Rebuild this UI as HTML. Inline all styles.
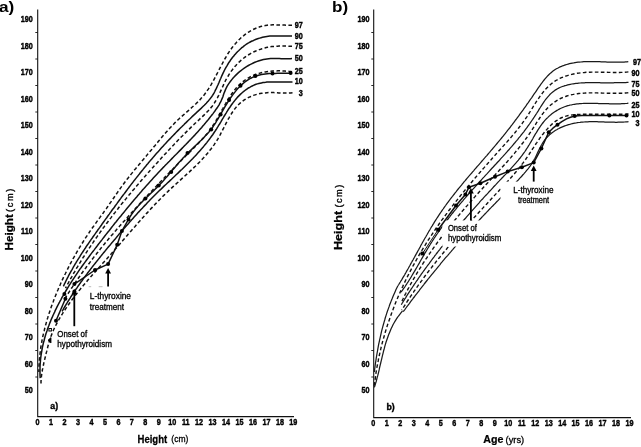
<!DOCTYPE html>
<html><head><meta charset="utf-8"><title>Growth charts</title>
<style>
html,body{margin:0;padding:0;background:#fff;}
svg{display:block;font-family:"Liberation Sans",sans-serif;}
</style></head>
<body>
<svg width="641" height="447" viewBox="0 0 641 447">
<rect width="641" height="447" fill="#fff"/>
<path d="M37.7,9.5 V416.6 H294" fill="none" stroke="#111" stroke-width="1.1"/>
<path d="M35.3,32.5 H37.7" stroke="#111" stroke-width="0.9"/>
<path d="M35.3,59.0 H37.7" stroke="#111" stroke-width="0.9"/>
<path d="M35.3,85.5 H37.7" stroke="#111" stroke-width="0.9"/>
<path d="M35.3,112.0 H37.7" stroke="#111" stroke-width="0.9"/>
<path d="M35.3,138.5 H37.7" stroke="#111" stroke-width="0.9"/>
<path d="M35.3,165.0 H37.7" stroke="#111" stroke-width="0.9"/>
<path d="M35.3,191.5 H37.7" stroke="#111" stroke-width="0.9"/>
<path d="M35.3,218.0 H37.7" stroke="#111" stroke-width="0.9"/>
<path d="M35.3,244.5 H37.7" stroke="#111" stroke-width="0.9"/>
<path d="M35.3,271.0 H37.7" stroke="#111" stroke-width="0.9"/>
<path d="M35.3,297.5 H37.7" stroke="#111" stroke-width="0.9"/>
<path d="M35.3,324.0 H37.7" stroke="#111" stroke-width="0.9"/>
<path d="M35.3,350.5 H37.7" stroke="#111" stroke-width="0.9"/>
<path d="M35.3,377.0 H37.7" stroke="#111" stroke-width="0.9"/>
<text transform="translate(32.7,22.1) scale(0.85,1)" font-size="8.5" font-weight="bold" text-anchor="end" stroke="#000" stroke-width="0.4" >190</text>
<text transform="translate(32.7,48.6) scale(0.85,1)" font-size="8.5" font-weight="bold" text-anchor="end" stroke="#000" stroke-width="0.4" >180</text>
<text transform="translate(32.7,75.1) scale(0.85,1)" font-size="8.5" font-weight="bold" text-anchor="end" stroke="#000" stroke-width="0.4" >170</text>
<text transform="translate(32.7,101.6) scale(0.85,1)" font-size="8.5" font-weight="bold" text-anchor="end" stroke="#000" stroke-width="0.4" >160</text>
<text transform="translate(32.7,128.1) scale(0.85,1)" font-size="8.5" font-weight="bold" text-anchor="end" stroke="#000" stroke-width="0.4" >150</text>
<text transform="translate(32.7,154.6) scale(0.85,1)" font-size="8.5" font-weight="bold" text-anchor="end" stroke="#000" stroke-width="0.4" >140</text>
<text transform="translate(32.7,181.1) scale(0.85,1)" font-size="8.5" font-weight="bold" text-anchor="end" stroke="#000" stroke-width="0.4" >130</text>
<text transform="translate(32.7,207.6) scale(0.85,1)" font-size="8.5" font-weight="bold" text-anchor="end" stroke="#000" stroke-width="0.4" >120</text>
<text transform="translate(32.7,234.1) scale(0.85,1)" font-size="8.5" font-weight="bold" text-anchor="end" stroke="#000" stroke-width="0.4" >110</text>
<text transform="translate(32.7,260.6) scale(0.85,1)" font-size="8.5" font-weight="bold" text-anchor="end" stroke="#000" stroke-width="0.4" >100</text>
<text transform="translate(32.7,287.1) scale(0.85,1)" font-size="8.5" font-weight="bold" text-anchor="end" stroke="#000" stroke-width="0.4" >90</text>
<text transform="translate(32.7,313.6) scale(0.85,1)" font-size="8.5" font-weight="bold" text-anchor="end" stroke="#000" stroke-width="0.4" >80</text>
<text transform="translate(32.7,340.1) scale(0.85,1)" font-size="8.5" font-weight="bold" text-anchor="end" stroke="#000" stroke-width="0.4" >70</text>
<text transform="translate(32.7,366.6) scale(0.85,1)" font-size="8.5" font-weight="bold" text-anchor="end" stroke="#000" stroke-width="0.4" >60</text>
<text transform="translate(32.7,393.1) scale(0.85,1)" font-size="8.5" font-weight="bold" text-anchor="end" stroke="#000" stroke-width="0.4" >50</text>
<text transform="translate(37.6,425.3) scale(0.85,1)" font-size="8.5" font-weight="bold" text-anchor="middle" stroke="#000" stroke-width="0.4" >0</text>
<text transform="translate(51.1,425.3) scale(0.85,1)" font-size="8.5" font-weight="bold" text-anchor="middle" stroke="#000" stroke-width="0.4" >1</text>
<text transform="translate(64.5,425.3) scale(0.85,1)" font-size="8.5" font-weight="bold" text-anchor="middle" stroke="#000" stroke-width="0.4" >2</text>
<text transform="translate(78.0,425.3) scale(0.85,1)" font-size="8.5" font-weight="bold" text-anchor="middle" stroke="#000" stroke-width="0.4" >3</text>
<text transform="translate(91.4,425.3) scale(0.85,1)" font-size="8.5" font-weight="bold" text-anchor="middle" stroke="#000" stroke-width="0.4" >4</text>
<text transform="translate(104.9,425.3) scale(0.85,1)" font-size="8.5" font-weight="bold" text-anchor="middle" stroke="#000" stroke-width="0.4" >5</text>
<text transform="translate(118.4,425.3) scale(0.85,1)" font-size="8.5" font-weight="bold" text-anchor="middle" stroke="#000" stroke-width="0.4" >6</text>
<text transform="translate(131.8,425.3) scale(0.85,1)" font-size="8.5" font-weight="bold" text-anchor="middle" stroke="#000" stroke-width="0.4" >7</text>
<text transform="translate(145.3,425.3) scale(0.85,1)" font-size="8.5" font-weight="bold" text-anchor="middle" stroke="#000" stroke-width="0.4" >8</text>
<text transform="translate(158.7,425.3) scale(0.85,1)" font-size="8.5" font-weight="bold" text-anchor="middle" stroke="#000" stroke-width="0.4" >9</text>
<text transform="translate(172.2,425.3) scale(0.85,1)" font-size="8.5" font-weight="bold" text-anchor="middle" stroke="#000" stroke-width="0.4" >10</text>
<text transform="translate(185.7,425.3) scale(0.85,1)" font-size="8.5" font-weight="bold" text-anchor="middle" stroke="#000" stroke-width="0.4" >11</text>
<text transform="translate(199.1,425.3) scale(0.85,1)" font-size="8.5" font-weight="bold" text-anchor="middle" stroke="#000" stroke-width="0.4" >12</text>
<text transform="translate(212.6,425.3) scale(0.85,1)" font-size="8.5" font-weight="bold" text-anchor="middle" stroke="#000" stroke-width="0.4" >13</text>
<text transform="translate(226.0,425.3) scale(0.85,1)" font-size="8.5" font-weight="bold" text-anchor="middle" stroke="#000" stroke-width="0.4" >14</text>
<text transform="translate(239.5,425.3) scale(0.85,1)" font-size="8.5" font-weight="bold" text-anchor="middle" stroke="#000" stroke-width="0.4" >15</text>
<text transform="translate(253.0,425.3) scale(0.85,1)" font-size="8.5" font-weight="bold" text-anchor="middle" stroke="#000" stroke-width="0.4" >16</text>
<text transform="translate(266.4,425.3) scale(0.85,1)" font-size="8.5" font-weight="bold" text-anchor="middle" stroke="#000" stroke-width="0.4" >17</text>
<text transform="translate(279.9,425.3) scale(0.85,1)" font-size="8.5" font-weight="bold" text-anchor="middle" stroke="#000" stroke-width="0.4" >18</text>
<text transform="translate(293.3,425.3) scale(0.85,1)" font-size="8.5" font-weight="bold" text-anchor="middle" stroke="#000" stroke-width="0.4" >19</text>
<path d="M292.0,25.2 L290.1,25.2 L288.3,25.2 L286.4,25.2 L284.5,25.1 L282.6,25.1 L280.6,25.0 L278.7,24.9 L276.8,24.9 L274.8,24.8 L272.9,24.8 L271.0,24.9 L269.1,25.0 L267.2,25.2 L265.4,25.5 L263.5,25.8 L261.7,26.3 L259.9,26.8 L258.2,27.4 L256.5,28.0 L254.8,28.7 L253.1,29.5 L251.4,30.4 L249.8,31.3 L248.2,32.3 L246.7,33.3 L245.2,34.4 L243.7,35.6 L242.2,36.7 L240.8,38.0 L239.5,39.3 L238.1,40.6 L236.8,42.0 L235.6,43.4 L234.3,44.8 L233.1,46.3 L232.0,47.8 L230.9,49.3 L229.8,50.9 L228.8,52.4 L227.7,54.0 L226.7,55.7 L225.8,57.3 L224.8,59.0 L223.9,60.6 L223.0,62.3 L222.1,64.0 L221.2,65.7 L220.3,67.4 L219.4,69.1 L218.5,70.8 L217.7,72.5 L216.8,74.2 L215.9,75.9 L215.0,77.6 L214.1,79.3 L213.2,81.0 L212.2,82.7 L211.3,84.3 L210.3,85.9 L209.3,87.5 L208.3,89.1 L207.2,90.7 L206.2,92.2 L205.0,93.7 L203.9,95.2 L202.7,96.6 L201.4,98.0 L200.2,99.4 L198.9,100.8 L197.6,102.1 L196.2,103.5 L194.8,104.8 L193.5,106.0 L192.0,107.3 L190.6,108.6 L189.2,109.9 L187.8,111.1 L186.3,112.4 L184.9,113.6 L183.5,114.9 L182.1,116.1 L180.6,117.4 L179.2,118.7 L177.8,120.0 L176.5,121.3 L175.1,122.6 L173.8,124.0 L172.5,125.4 L171.2,126.7 L169.9,128.1 L168.6,129.5 L167.3,130.9 L166.1,132.3 L164.8,133.8 L163.6,135.2 L162.4,136.6 L161.1,138.1 L159.9,139.5 L158.7,141.0 L157.5,142.5 L156.3,143.9 L155.1,145.4 L153.9,146.8 L152.7,148.3 L151.5,149.8 L150.2,151.2 L149.0,152.7 L147.8,154.1 L146.6,155.6 L145.4,157.1 L144.2,158.5 L142.9,160.0 L141.7,161.4 L140.5,162.9 L139.3,164.3 L138.0,165.8 L136.8,167.2 L135.6,168.7 L134.4,170.1 L133.2,171.6 L132.0,173.1 L130.8,174.6 L129.6,176.0 L128.5,177.5 L127.3,179.0 L126.1,180.5 L125.0,182.0 L123.9,183.5 L122.7,185.1 L121.6,186.6 L120.5,188.1 L119.4,189.7 L118.3,191.2 L117.2,192.8 L116.2,194.3 L115.1,195.9 L114.0,197.5 L113.0,199.0 L111.9,200.6 L110.8,202.1 L109.7,203.7 L108.7,205.3 L107.6,206.8 L106.5,208.4 L105.4,209.9 L104.3,211.4 L103.2,213.0 L102.1,214.5 L100.9,216.0 L99.8,217.6 L98.7,219.1 L97.6,220.6 L96.5,222.1 L95.4,223.7 L94.3,225.2 L93.2,226.8 L92.1,228.3 L91.0,229.9 L89.9,231.4 L88.9,233.0 L87.8,234.6 L86.8,236.1 L85.7,237.7 L84.7,239.3 L83.7,240.9 L82.7,242.5 L81.7,244.1 L80.7,245.7 L79.7,247.4 L78.7,249.0 L77.7,250.6 L76.8,252.2 L75.8,253.9 L74.9,255.5 L74.0,257.2 L73.0,258.8 L72.1,260.5 L71.2,262.2 L70.3,263.8 L69.4,265.5 L68.6,267.2 L67.7,268.9 L66.9,270.6 L66.0,272.3 L65.2,274.0 L64.3,275.7 L63.5,277.4 L62.7,279.1 L61.9,280.8 L61.1,282.5 L60.4,284.3 L59.6,286.0 L58.8,287.7 L58.1,289.5 L57.3,291.2 L56.6,293.0 L55.9,294.7 L55.2,296.5 L54.5,298.3 L53.8,300.0 L53.2,301.8 L52.5,303.6 L51.8,305.4 L51.2,307.1 L50.6,308.9 L50.0,310.7 L49.4,312.5 L48.8,314.3 L48.2,316.1 L47.7,317.9 L47.1,319.7 L46.6,321.6 L46.1,323.4 L45.6,325.2 L45.1,327.0 L44.6,328.9 L44.2,330.7 L43.7,332.5 L43.3,334.4 L42.9,336.2 L42.5,338.1 L42.1,339.9 L41.8,341.8 L41.5,343.7 L41.1,345.5 L40.8,347.4 L40.6,349.3 L40.3,351.2 L40.1,353.0 L39.9,354.9 L39.7,356.8 L39.5,358.7 L39.3,360.6 L39.2,362.5 L39.1,364.4 L39.0,366.3 L39.0,368.2 L38.9,370.1 L38.9,372.0" fill="none" stroke="#111" stroke-width="1.5" stroke-dasharray="3.6 2.4"/>
<path d="M292.0,36.1 L290.5,36.1 L289.1,36.1 L287.6,36.1 L286.1,36.1 L284.6,36.1 L283.2,36.0 L281.7,36.0 L280.2,35.9 L278.7,35.9 L277.2,35.9 L275.7,35.9 L274.2,35.9 L272.8,35.9 L271.3,36.0 L269.8,36.1 L268.3,36.3 L266.9,36.5 L265.4,36.7 L264.0,37.0 L262.5,37.3 L261.1,37.7 L259.7,38.1 L258.3,38.5 L256.9,39.0 L255.5,39.5 L254.2,40.1 L252.9,40.7 L251.5,41.3 L250.2,42.0 L249.0,42.7 L247.7,43.4 L246.5,44.2 L245.3,45.0 L244.1,45.9 L243.0,46.8 L241.8,47.7 L240.7,48.7 L239.6,49.7 L238.6,50.7 L237.5,51.7 L236.5,52.8 L235.5,53.9 L234.5,55.0 L233.6,56.2 L232.6,57.3 L231.7,58.5 L230.8,59.7 L230.0,61.0 L229.1,62.2 L228.3,63.5 L227.5,64.8 L226.8,66.1 L226.0,67.4 L225.3,68.7 L224.6,70.0 L223.9,71.4 L223.3,72.7 L222.6,74.1 L222.0,75.4 L221.4,76.8 L220.8,78.2 L220.2,79.5 L219.6,80.9 L219.1,82.3 L218.5,83.6 L217.9,85.0 L217.3,86.3 L216.7,87.6 L216.1,88.9 L215.4,90.2 L214.8,91.5 L214.1,92.8 L213.4,94.0 L212.6,95.3 L211.8,96.5 L211.0,97.6 L210.1,98.8 L209.2,99.9 L208.3,101.0 L207.3,102.1 L206.3,103.2 L205.3,104.2 L204.3,105.3 L203.2,106.3 L202.2,107.3 L201.1,108.4 L200.0,109.4 L198.9,110.4 L197.8,111.4 L196.7,112.4 L195.7,113.4 L194.6,114.4 L193.5,115.4 L192.4,116.4 L191.3,117.5 L190.3,118.5 L189.2,119.5 L188.1,120.5 L187.0,121.6 L186.0,122.6 L184.9,123.6 L183.9,124.7 L182.8,125.7 L181.8,126.8 L180.7,127.8 L179.7,128.8 L178.6,129.9 L177.6,130.9 L176.5,132.0 L175.5,133.1 L174.5,134.1 L173.4,135.2 L172.4,136.2 L171.4,137.3 L170.4,138.4 L169.4,139.4 L168.3,140.5 L167.3,141.6 L166.3,142.7 L165.3,143.8 L164.3,144.8 L163.3,145.9 L162.3,147.0 L161.3,148.1 L160.3,149.2 L159.4,150.3 L158.4,151.4 L157.4,152.5 L156.4,153.6 L155.4,154.7 L154.5,155.8 L153.5,156.9 L152.6,158.1 L151.6,159.2 L150.6,160.3 L149.7,161.4 L148.7,162.6 L147.8,163.7 L146.8,164.8 L145.9,166.0 L145.0,167.1 L144.0,168.2 L143.1,169.4 L142.2,170.5 L141.2,171.7 L140.3,172.8 L139.4,174.0 L138.5,175.1 L137.6,176.3 L136.7,177.4 L135.7,178.6 L134.8,179.8 L133.9,180.9 L133.0,182.1 L132.1,183.3 L131.2,184.4 L130.3,185.6 L129.4,186.8 L128.5,188.0 L127.6,189.1 L126.8,190.3 L125.9,191.5 L125.0,192.7 L124.1,193.9 L123.2,195.0 L122.3,196.2 L121.4,197.4 L120.6,198.6 L119.7,199.8 L118.8,201.0 L117.9,202.2 L117.1,203.4 L116.2,204.6 L115.3,205.8 L114.5,207.0 L113.6,208.2 L112.7,209.3 L111.8,210.5 L111.0,211.7 L110.1,212.9 L109.3,214.1 L108.4,215.3 L107.5,216.5 L106.7,217.7 L105.8,218.9 L104.9,220.1 L104.1,221.3 L103.2,222.5 L102.3,223.7 L101.5,225.0 L100.6,226.2 L99.8,227.4 L98.9,228.6 L98.0,229.8 L97.2,231.0 L96.3,232.2 L95.5,233.4 L94.6,234.6 L93.8,235.8 L92.9,237.0 L92.1,238.2 L91.2,239.4 L90.4,240.6 L89.5,241.9 L88.7,243.1 L87.9,244.3 L87.0,245.5 L86.2,246.7 L85.4,248.0 L84.6,249.2 L83.8,250.4 L82.9,251.7 L82.1,252.9 L81.3,254.1 L80.5,255.4 L79.8,256.6 L79.0,257.9 L78.2,259.1 L77.4,260.4 L76.6,261.6 L75.9,262.9 L75.1,264.2 L74.4,265.4 L73.6,266.7 L72.9,268.0 L72.2,269.3 L71.4,270.6 L70.7,271.8 L70.0,273.1 L69.3,274.4 L68.6,275.7 L67.9,277.1 L67.2,278.4 L66.6,279.7 L65.9,281.0 L65.3,282.4 L64.6,283.7 L64.0,285.0 L63.4,286.4" fill="none" stroke="#111" stroke-width="1.5" />
<path d="M292.0,46.2 L290.6,46.2 L289.1,46.2 L287.7,46.1 L286.3,46.1 L284.8,46.1 L283.4,46.1 L281.9,46.1 L280.5,46.1 L279.0,46.1 L277.6,46.2 L276.2,46.2 L274.7,46.3 L273.3,46.5 L271.8,46.6 L270.4,46.8 L269.0,47.1 L267.6,47.3 L266.2,47.6 L264.8,48.0 L263.4,48.3 L262.0,48.7 L260.6,49.2 L259.3,49.6 L257.9,50.1 L256.6,50.6 L255.3,51.2 L254.0,51.8 L252.7,52.4 L251.4,53.1 L250.2,53.8 L249.0,54.5 L247.8,55.2 L246.6,56.0 L245.4,56.8 L244.3,57.7 L243.1,58.6 L242.0,59.5 L240.9,60.4 L239.9,61.4 L238.8,62.4 L237.8,63.4 L236.8,64.4 L235.9,65.5 L234.9,66.6 L234.0,67.7 L233.1,68.8 L232.2,70.0 L231.3,71.1 L230.5,72.3 L229.7,73.5 L228.9,74.7 L228.2,76.0 L227.4,77.2 L226.7,78.5 L226.0,79.7 L225.3,81.0 L224.7,82.3 L224.1,83.6 L223.5,84.9 L222.9,86.2 L222.3,87.5 L221.7,88.8 L221.1,90.1 L220.5,91.4 L219.9,92.7 L219.3,94.0 L218.7,95.3 L218.0,96.6 L217.4,97.8 L216.7,99.1 L216.0,100.3 L215.3,101.5 L214.6,102.7 L213.8,103.9 L213.0,105.0 L212.2,106.2 L211.3,107.3 L210.4,108.4 L209.4,109.4 L208.5,110.5 L207.5,111.5 L206.5,112.6 L205.5,113.6 L204.5,114.6 L203.4,115.6 L202.4,116.6 L201.3,117.6 L200.2,118.6 L199.2,119.6 L198.1,120.6 L197.0,121.5 L196.0,122.5 L194.9,123.5 L193.9,124.5 L192.8,125.5 L191.8,126.5 L190.7,127.6 L189.7,128.6 L188.7,129.6 L187.7,130.6 L186.6,131.6 L185.6,132.6 L184.6,133.6 L183.6,134.7 L182.6,135.7 L181.5,136.7 L180.5,137.7 L179.5,138.8 L178.5,139.8 L177.5,140.8 L176.5,141.9 L175.5,142.9 L174.5,143.9 L173.6,145.0 L172.6,146.0 L171.6,147.1 L170.6,148.1 L169.6,149.2 L168.6,150.2 L167.6,151.3 L166.7,152.3 L165.7,153.4 L164.7,154.4 L163.7,155.5 L162.8,156.5 L161.8,157.6 L160.8,158.7 L159.9,159.7 L158.9,160.8 L157.9,161.9 L157.0,162.9 L156.0,164.0 L155.0,165.1 L154.1,166.1 L153.1,167.2 L152.1,168.3 L151.2,169.3 L150.2,170.4 L149.3,171.5 L148.3,172.6 L147.4,173.6 L146.4,174.7 L145.5,175.8 L144.5,176.9 L143.6,178.0 L142.6,179.1 L141.7,180.1 L140.7,181.2 L139.8,182.3 L138.9,183.4 L137.9,184.5 L137.0,185.6 L136.0,186.7 L135.1,187.8 L134.2,188.9 L133.2,190.0 L132.3,191.1 L131.4,192.2 L130.5,193.3 L129.5,194.4 L128.6,195.5 L127.7,196.6 L126.8,197.7 L125.9,198.9 L125.0,200.0 L124.1,201.1 L123.1,202.2 L122.2,203.3 L121.3,204.4 L120.4,205.6 L119.5,206.7 L118.6,207.8 L117.8,209.0 L116.9,210.1 L116.0,211.2 L115.1,212.4 L114.2,213.5 L113.3,214.6 L112.4,215.8 L111.6,216.9 L110.7,218.1 L109.8,219.2 L108.9,220.4 L108.1,221.5 L107.2,222.7 L106.4,223.8 L105.5,225.0 L104.6,226.1 L103.8,227.3 L102.9,228.4 L102.1,229.6 L101.3,230.8 L100.4,231.9 L99.6,233.1 L98.7,234.3 L97.9,235.5 L97.1,236.6 L96.3,237.8 L95.4,239.0 L94.6,240.2 L93.8,241.4 L93.0,242.6 L92.2,243.7 L91.4,244.9 L90.6,246.1 L89.8,247.3 L89.0,248.5 L88.2,249.7 L87.4,250.9 L86.6,252.1 L85.8,253.3 L85.1,254.6 L84.3,255.8 L83.5,257.0 L82.7,258.2 L82.0,259.4 L81.2,260.6 L80.5,261.9 L79.7,263.1 L79.0,264.3 L78.2,265.6 L77.5,266.8 L76.7,268.0 L76.0,269.3 L75.3,270.5 L74.6,271.8 L73.8,273.0 L73.1,274.3 L72.4,275.5 L71.7,276.8 L71.0,278.0 L70.3,279.3 L69.6,280.5 L68.9,281.8 L68.2,283.1 L67.5,284.3 L66.9,285.6 L66.2,286.9 L65.5,288.2" fill="none" stroke="#111" stroke-width="1.5" stroke-dasharray="3.6 2.4"/>
<path d="M292.0,58.6 L290.2,58.7 L288.4,58.8 L286.6,58.8 L284.8,58.8 L283.0,58.8 L281.2,58.7 L279.4,58.6 L277.6,58.6 L275.8,58.6 L274.0,58.5 L272.2,58.6 L270.5,58.6 L268.7,58.8 L266.9,59.0 L265.2,59.3 L263.4,59.6 L261.7,60.0 L260.0,60.5 L258.3,61.0 L256.6,61.6 L254.9,62.3 L253.3,63.0 L251.6,63.8 L250.0,64.6 L248.4,65.5 L246.9,66.4 L245.4,67.4 L243.9,68.4 L242.4,69.5 L241.0,70.6 L239.6,71.7 L238.2,72.9 L236.9,74.1 L235.6,75.4 L234.3,76.7 L233.1,78.0 L232.0,79.4 L230.9,80.8 L229.8,82.2 L228.8,83.7 L227.8,85.2 L226.9,86.7 L226.1,88.3 L225.4,89.9 L224.7,91.6 L224.0,93.3 L223.4,95.0 L222.9,96.7 L222.2,98.4 L221.5,100.0 L220.8,101.7 L219.9,103.2 L219.1,104.8 L218.1,106.3 L217.2,107.8 L216.1,109.2 L215.1,110.7 L214.1,112.1 L213.0,113.6 L211.9,115.0 L210.8,116.4 L209.7,117.8 L208.6,119.2 L207.5,120.6 L206.3,121.9 L205.2,123.3 L204.0,124.7 L202.8,126.0 L201.7,127.4 L200.5,128.7 L199.3,130.1 L198.1,131.4 L196.9,132.7 L195.7,134.0 L194.5,135.4 L193.2,136.7 L192.0,138.0 L190.8,139.3 L189.5,140.6 L188.3,141.9 L187.0,143.2 L185.8,144.5 L184.5,145.8 L183.3,147.1 L182.0,148.4 L180.8,149.6 L179.5,150.9 L178.2,152.2 L177.0,153.5 L175.7,154.8 L174.4,156.0 L173.2,157.3 L171.9,158.6 L170.6,159.9 L169.4,161.2 L168.1,162.5 L166.9,163.8 L165.6,165.0 L164.4,166.3 L163.1,167.6 L161.9,168.9 L160.6,170.2 L159.4,171.5 L158.2,172.8 L156.9,174.2 L155.7,175.5 L154.5,176.8 L153.3,178.1 L152.1,179.4 L150.9,180.7 L149.7,182.1 L148.5,183.4 L147.3,184.7 L146.1,186.1 L144.9,187.4 L143.7,188.8 L142.5,190.1 L141.4,191.5 L140.2,192.8 L139.0,194.2 L137.8,195.5 L136.7,196.9 L135.5,198.2 L134.4,199.6 L133.2,201.0 L132.1,202.3 L130.9,203.7 L129.8,205.1 L128.6,206.5 L127.5,207.8 L126.3,209.2 L125.2,210.6 L124.1,212.0 L122.9,213.4 L121.8,214.8 L120.7,216.2 L119.5,217.5 L118.4,218.9 L117.3,220.3 L116.2,221.7 L115.0,223.1 L113.9,224.5 L112.8,225.9 L111.7,227.3 L110.6,228.8 L109.5,230.2 L108.4,231.6 L107.2,233.0 L106.1,234.4 L105.0,235.8 L103.9,237.2 L102.8,238.6 L101.7,240.1 L100.6,241.5 L99.5,242.9 L98.4,244.3 L97.3,245.8 L96.2,247.2 L95.1,248.6 L94.0,250.1 L92.9,251.5 L91.8,252.9 L90.7,254.4 L89.7,255.8 L88.6,257.3 L87.5,258.7 L86.4,260.2 L85.4,261.6 L84.3,263.1 L83.3,264.5 L82.2,266.0 L81.2,267.5 L80.1,268.9 L79.1,270.4 L78.1,271.9 L77.1,273.4 L76.1,274.9 L75.1,276.4 L74.1,277.9 L73.1,279.4 L72.1,280.9 L71.1,282.4 L70.2,283.9 L69.2,285.4 L68.3,286.9 L67.3,288.5 L66.4,290.0 L65.5,291.5 L64.6,293.1 L63.7,294.6 L62.8,296.2 L61.9,297.7 L61.1,299.3 L60.2,300.9 L59.4,302.5 L58.5,304.0 L57.7,305.6 L56.9,307.2 L56.1,308.8 L55.3,310.4 L54.6,312.1 L53.8,313.7 L53.1,315.3 L52.4,316.9 L51.6,318.6 L50.9,320.2 L50.3,321.9 L49.6,323.5 L49.0,325.2 L48.3,326.9 L47.7,328.6 L47.2,330.2 L46.6,331.9 L46.0,333.6 L45.5,335.3 L45.0,337.0 L44.5,338.8 L44.1,340.5 L43.6,342.2 L43.2,343.9 L42.8,345.7 L42.4,347.4 L42.1,349.2 L41.8,350.9 L41.5,352.7 L41.2,354.5 L40.9,356.3 L40.7,358.0 L40.5,359.8 L40.4,361.6 L40.2,363.4 L40.1,365.3 L40.0,367.1 L40.0,368.9 L40.0,370.7 L40.0,372.6 L40.0,374.4 L40.1,376.3 L40.2,378.1" fill="none" stroke="#111" stroke-width="1.5" />
<path d="M292.0,71.7 L290.6,71.5 L289.3,71.4 L287.9,71.3 L286.5,71.2 L285.1,71.1 L283.7,71.0 L282.3,70.9 L280.9,70.9 L279.4,70.8 L278.0,70.8 L276.6,70.9 L275.2,70.9 L273.8,71.0 L272.3,71.0 L270.9,71.2 L269.5,71.3 L268.1,71.5 L266.7,71.7 L265.3,71.9 L263.9,72.1 L262.6,72.4 L261.2,72.7 L259.9,73.1 L258.5,73.5 L257.2,73.9 L255.9,74.3 L254.6,74.8 L253.4,75.4 L252.1,75.9 L250.9,76.5 L249.7,77.1 L248.5,77.8 L247.3,78.5 L246.2,79.2 L245.1,80.0 L244.0,80.8 L242.9,81.7 L241.9,82.5 L240.8,83.4 L239.8,84.3 L238.8,85.3 L237.9,86.3 L237.0,87.3 L236.0,88.3 L235.1,89.4 L234.3,90.5 L233.4,91.6 L232.6,92.7 L231.8,93.8 L231.0,95.0 L230.2,96.1 L229.4,97.3 L228.7,98.5 L227.9,99.7 L227.2,100.9 L226.5,102.1 L225.8,103.4 L225.1,104.6 L224.4,105.8 L223.7,107.0 L223.0,108.3 L222.3,109.5 L221.6,110.7 L220.9,112.0 L220.3,113.2 L219.6,114.4 L218.9,115.6 L218.2,116.9 L217.5,118.1 L216.8,119.3 L216.1,120.5 L215.4,121.7 L214.6,122.9 L213.9,124.1 L213.1,125.2 L212.4,126.4 L211.6,127.6 L210.8,128.7 L210.0,129.8 L209.2,130.9 L208.3,132.0 L207.5,133.1 L206.6,134.2 L205.7,135.2 L204.8,136.3 L203.9,137.3 L203.0,138.4 L202.0,139.4 L201.1,140.4 L200.2,141.5 L199.2,142.5 L198.2,143.5 L197.3,144.5 L196.3,145.5 L195.3,146.5 L194.3,147.4 L193.3,148.4 L192.3,149.4 L191.4,150.4 L190.4,151.4 L189.4,152.4 L188.4,153.3 L187.4,154.3 L186.4,155.3 L185.4,156.3 L184.4,157.3 L183.4,158.3 L182.4,159.3 L181.4,160.2 L180.5,161.2 L179.5,162.2 L178.5,163.2 L177.5,164.2 L176.5,165.2 L175.6,166.2 L174.6,167.2 L173.6,168.2 L172.6,169.2 L171.6,170.2 L170.7,171.2 L169.7,172.2 L168.7,173.2 L167.8,174.2 L166.8,175.2 L165.8,176.2 L164.8,177.2 L163.9,178.2 L162.9,179.2 L161.9,180.2 L161.0,181.2 L160.0,182.2 L159.0,183.3 L158.1,184.3 L157.1,185.3 L156.2,186.3 L155.2,187.3 L154.2,188.3 L153.3,189.3 L152.3,190.4 L151.4,191.4 L150.4,192.4 L149.4,193.4 L148.5,194.4 L147.5,195.4 L146.6,196.5 L145.6,197.5 L144.7,198.5 L143.7,199.5 L142.8,200.6 L141.8,201.6 L140.9,202.6 L139.9,203.6 L139.0,204.7 L138.0,205.7 L137.1,206.7 L136.1,207.7 L135.2,208.8 L134.2,209.8 L133.3,210.8 L132.4,211.9 L131.4,212.9 L130.5,213.9 L129.5,215.0 L128.6,216.0 L127.7,217.1 L126.7,218.1 L125.8,219.1 L124.9,220.2 L124.0,221.2 L123.0,222.3 L122.1,223.3 L121.2,224.4 L120.2,225.4 L119.3,226.5 L118.4,227.5 L117.5,228.6 L116.6,229.6 L115.7,230.7 L114.7,231.7 L113.8,232.8 L112.9,233.9 L112.0,234.9 L111.1,236.0 L110.2,237.1 L109.3,238.1 L108.4,239.2 L107.5,240.3 L106.6,241.3 L105.7,242.4 L104.8,243.5 L104.0,244.6 L103.1,245.6 L102.2,246.7 L101.3,247.8 L100.4,248.9 L99.6,250.0 L98.7,251.1 L97.8,252.2 L96.9,253.3 L96.1,254.4 L95.2,255.4 L94.4,256.5 L93.5,257.6 L92.6,258.8 L91.8,259.9 L90.9,261.0 L90.1,262.1 L89.3,263.2 L88.4,264.3 L87.6,265.4 L86.7,266.5 L85.9,267.7 L85.1,268.8 L84.3,269.9 L83.4,271.0 L82.6,272.2 L81.8,273.3 L81.0,274.4 L80.2,275.6 L79.4,276.7 L78.6,277.8 L77.8,279.0 L77.0,280.1 L76.2,281.3 L75.4,282.4 L74.6,283.6 L73.8,284.8 L73.1,285.9 L72.3,287.1 L71.5,288.2 L70.8,289.4 L70.0,290.6 L69.2,291.8 L68.5,292.9 L67.7,294.1 L67.0,295.3 L66.2,296.5 L65.5,297.7 L64.8,298.9" fill="none" stroke="#111" stroke-width="1.5" stroke-dasharray="3.6 2.4"/>
<path d="M292.5,81.9 L291.1,82.0 L289.7,82.0 L288.3,82.1 L286.9,82.1 L285.4,82.1 L284.0,82.1 L282.6,82.0 L281.2,82.0 L279.8,82.0 L278.4,81.9 L277.0,81.9 L275.5,81.9 L274.1,81.9 L272.7,81.9 L271.3,81.9 L269.9,82.0 L268.5,82.0 L267.0,82.1 L265.6,82.3 L264.3,82.4 L262.9,82.6 L261.5,82.9 L260.1,83.2 L258.8,83.5 L257.4,83.9 L256.1,84.3 L254.8,84.8 L253.5,85.4 L252.2,86.0 L250.9,86.6 L249.7,87.3 L248.4,88.0 L247.2,88.8 L246.1,89.6 L244.9,90.5 L243.8,91.3 L242.7,92.2 L241.6,93.2 L240.6,94.1 L239.6,95.1 L238.6,96.1 L237.6,97.1 L236.7,98.2 L235.8,99.3 L234.9,100.4 L234.0,101.5 L233.1,102.6 L232.3,103.7 L231.5,104.8 L230.7,106.0 L229.9,107.2 L229.1,108.3 L228.3,109.5 L227.6,110.7 L226.8,111.9 L226.1,113.1 L225.3,114.3 L224.6,115.5 L223.9,116.7 L223.2,117.9 L222.4,119.1 L221.7,120.3 L221.0,121.6 L220.3,122.8 L219.6,124.0 L218.8,125.2 L218.1,126.4 L217.3,127.6 L216.6,128.8 L215.8,130.0 L215.1,131.2 L214.3,132.3 L213.5,133.5 L212.7,134.7 L211.9,135.8 L211.0,137.0 L210.2,138.1 L209.4,139.2 L208.5,140.4 L207.6,141.5 L206.8,142.6 L205.9,143.7 L205.0,144.8 L204.1,145.9 L203.2,147.0 L202.3,148.0 L201.4,149.1 L200.4,150.2 L199.5,151.2 L198.5,152.3 L197.6,153.3 L196.6,154.4 L195.7,155.4 L194.7,156.5 L193.7,157.5 L192.8,158.5 L191.8,159.5 L190.8,160.5 L189.8,161.5 L188.8,162.5 L187.8,163.5 L186.8,164.5 L185.8,165.5 L184.8,166.5 L183.8,167.5 L182.8,168.5 L181.8,169.5 L180.7,170.4 L179.7,171.4 L178.7,172.4 L177.7,173.4 L176.7,174.3 L175.6,175.3 L174.6,176.3 L173.6,177.2 L172.5,178.2 L171.5,179.2 L170.5,180.1 L169.5,181.1 L168.4,182.1 L167.4,183.0 L166.4,184.0 L165.3,185.0 L164.3,185.9 L163.3,186.9 L162.3,187.9 L161.3,188.9 L160.2,189.9 L159.2,190.8 L158.2,191.8 L157.2,192.8 L156.2,193.8 L155.2,194.8 L154.2,195.8 L153.2,196.8 L152.2,197.8 L151.2,198.8 L150.2,199.8 L149.3,200.8 L148.3,201.8 L147.3,202.8 L146.3,203.9 L145.4,204.9 L144.4,205.9 L143.4,206.9 L142.5,208.0 L141.5,209.0 L140.5,210.0 L139.6,211.1 L138.6,212.1 L137.7,213.1 L136.7,214.2 L135.8,215.2 L134.8,216.3 L133.9,217.3 L132.9,218.4 L132.0,219.4 L131.1,220.5 L130.1,221.5 L129.2,222.6 L128.3,223.7 L127.3,224.7 L126.4,225.8 L125.5,226.8 L124.5,227.9 L123.6,229.0 L122.7,230.1 L121.8,231.1 L120.9,232.2 L119.9,233.3 L119.0,234.3 L118.1,235.4 L117.2,236.5 L116.3,237.6 L115.4,238.7 L114.5,239.7 L113.6,240.8 L112.6,241.9 L111.7,243.0 L110.8,244.1 L109.9,245.2 L109.0,246.2 L108.1,247.3 L107.2,248.4 L106.3,249.5 L105.4,250.6 L104.5,251.7 L103.6,252.8 L102.7,253.9 L101.8,255.0 L100.9,256.1 L100.0,257.2 L99.2,258.3 L98.3,259.4 L97.4,260.5 L96.5,261.6 L95.6,262.7 L94.8,263.8 L93.9,264.9 L93.0,266.0 L92.1,267.1 L91.3,268.3 L90.4,269.4 L89.6,270.5 L88.7,271.6 L87.8,272.7 L87.0,273.9 L86.2,275.0 L85.3,276.1 L84.5,277.3 L83.6,278.4 L82.8,279.5 L82.0,280.7 L81.1,281.8 L80.3,283.0 L79.5,284.1 L78.7,285.3 L77.9,286.4 L77.1,287.6 L76.3,288.7 L75.5,289.9 L74.7,291.1 L73.9,292.2 L73.1,293.4 L72.4,294.6 L71.6,295.8 L70.8,296.9 L70.1,298.1 L69.3,299.3 L68.6,300.5 L67.8,301.7 L67.1,302.9 L66.3,304.1 L65.6,305.3 L64.9,306.5 L64.2,307.7 L63.5,308.9 L62.8,310.2 L62.1,311.4" fill="none" stroke="#111" stroke-width="1.5" />
<path d="M292.5,92.7 L290.8,92.9 L289.1,93.0 L287.4,93.1 L285.7,93.1 L284.0,93.1 L282.3,93.0 L280.6,93.0 L278.9,92.9 L277.2,92.8 L275.5,92.7 L273.8,92.6 L272.1,92.6 L270.4,92.6 L268.7,92.6 L267.0,92.7 L265.2,92.9 L263.5,93.1 L261.8,93.3 L260.1,93.6 L258.4,94.0 L256.7,94.4 L255.1,94.9 L253.4,95.4 L251.8,96.0 L250.3,96.7 L248.7,97.4 L247.2,98.2 L245.7,99.0 L244.3,99.9 L243.0,100.8 L241.6,101.8 L240.4,102.9 L239.2,104.0 L238.0,105.1 L236.9,106.3 L235.8,107.6 L234.8,108.9 L233.8,110.2 L232.8,111.6 L231.9,113.0 L231.0,114.4 L230.1,115.8 L229.3,117.3 L228.4,118.8 L227.6,120.3 L226.8,121.9 L226.0,123.4 L225.2,125.0 L224.4,126.5 L223.6,128.1 L222.8,129.6 L222.0,131.2 L221.2,132.7 L220.4,134.3 L219.6,135.8 L218.7,137.3 L217.9,138.8 L217.0,140.3 L216.1,141.7 L215.1,143.2 L214.2,144.6 L213.2,146.0 L212.2,147.3 L211.2,148.7 L210.1,150.0 L209.1,151.4 L208.0,152.7 L206.9,154.0 L205.8,155.3 L204.7,156.5 L203.6,157.8 L202.4,159.0 L201.3,160.2 L200.1,161.5 L198.9,162.7 L197.7,163.9 L196.5,165.1 L195.3,166.3 L194.1,167.4 L192.9,168.6 L191.6,169.8 L190.4,170.9 L189.2,172.1 L187.9,173.2 L186.6,174.4 L185.4,175.5 L184.1,176.7 L182.9,177.8 L181.6,178.9 L180.3,180.1 L179.1,181.2 L177.8,182.4 L176.5,183.5 L175.3,184.6 L174.0,185.8 L172.8,186.9 L171.5,188.1 L170.2,189.3 L169.0,190.4 L167.8,191.6 L166.5,192.8 L165.3,194.0 L164.1,195.1 L162.9,196.3 L161.7,197.5 L160.5,198.8 L159.3,200.0 L158.1,201.2 L156.9,202.4 L155.7,203.6 L154.5,204.9 L153.4,206.1 L152.2,207.4 L151.0,208.6 L149.9,209.9 L148.7,211.1 L147.6,212.4 L146.4,213.6 L145.3,214.9 L144.1,216.2 L143.0,217.4 L141.8,218.7 L140.7,220.0 L139.6,221.3 L138.4,222.5 L137.3,223.8 L136.2,225.1 L135.1,226.4 L133.9,227.7 L132.8,229.0 L131.7,230.2 L130.6,231.5 L129.5,232.8 L128.3,234.1 L127.2,235.4 L126.1,236.7 L125.0,238.0 L123.9,239.3 L122.8,240.6 L121.7,241.9 L120.5,243.2 L119.4,244.4 L118.3,245.7 L117.2,247.0 L116.1,248.3 L114.9,249.6 L113.8,250.9 L112.7,252.1 L111.6,253.4 L110.4,254.7 L109.3,256.0 L108.2,257.2 L107.1,258.5 L105.9,259.8 L104.8,261.0 L103.7,262.3 L102.5,263.6 L101.4,264.8 L100.3,266.1 L99.1,267.4 L98.0,268.6 L96.9,269.9 L95.7,271.2 L94.6,272.4 L93.5,273.7 L92.3,275.0 L91.2,276.3 L90.1,277.5 L89.0,278.8 L87.9,280.1 L86.8,281.4 L85.7,282.7 L84.6,284.0 L83.5,285.3 L82.4,286.6 L81.3,287.9 L80.2,289.3 L79.1,290.6 L78.1,291.9 L77.0,293.3 L75.9,294.6 L74.9,296.0 L73.9,297.3 L72.8,298.7 L71.8,300.0 L70.8,301.4 L69.8,302.8 L68.8,304.2 L67.8,305.6 L66.9,307.0 L65.9,308.4 L65.0,309.8 L64.0,311.2 L63.1,312.6 L62.2,314.1 L61.3,315.5 L60.4,316.9 L59.6,318.4 L58.7,319.8 L57.9,321.3 L57.1,322.8 L56.3,324.3 L55.6,325.8 L54.8,327.3 L54.1,328.8 L53.4,330.3 L52.7,331.9 L52.1,333.4 L51.5,335.0 L50.9,336.6 L50.3,338.2 L49.8,339.8 L49.3,341.4 L48.8,343.1 L48.3,344.7 L47.9,346.4 L47.5,348.1 L47.1,349.8 L46.7,351.4 L46.2,353.1 L45.8,354.8 L45.4,356.5 L45.0,358.1 L44.6,359.8 L44.2,361.4 L43.8,363.1 L43.5,364.8 L43.1,366.4 L42.8,368.1 L42.4,369.8 L42.2,371.4 L41.9,373.1 L41.6,374.8 L41.4,376.5 L41.3,378.2 L41.1,379.9 L41.0,381.6 L41.0,383.3 L41.0,385.0" fill="none" stroke="#111" stroke-width="1.5" stroke-dasharray="3.6 2.4"/>
<text transform="translate(302.8,27.9) scale(0.85,1)" font-size="8.5" font-weight="bold" text-anchor="end" stroke="#000" stroke-width="0.4" >97</text>
<text transform="translate(302.8,39.1) scale(0.85,1)" font-size="8.5" font-weight="bold" text-anchor="end" stroke="#000" stroke-width="0.4" >90</text>
<text transform="translate(302.8,48.6) scale(0.85,1)" font-size="8.5" font-weight="bold" text-anchor="end" stroke="#000" stroke-width="0.4" >75</text>
<text transform="translate(302.8,61.1) scale(0.85,1)" font-size="8.5" font-weight="bold" text-anchor="end" stroke="#000" stroke-width="0.4" >50</text>
<text transform="translate(302.8,74.1) scale(0.85,1)" font-size="8.5" font-weight="bold" text-anchor="end" stroke="#000" stroke-width="0.4" >25</text>
<text transform="translate(302.8,84.4) scale(0.85,1)" font-size="8.5" font-weight="bold" text-anchor="end" stroke="#000" stroke-width="0.4" >10</text>
<text transform="translate(302.8,95.6) scale(0.85,1)" font-size="8.5" font-weight="bold" text-anchor="end" stroke="#000" stroke-width="0.4" >3</text>
<path d="M290.5,73.1 L288.7,73.2 L286.8,73.2 L285.0,73.3 L283.0,73.3 L281.1,73.3 L279.2,73.3 L277.2,73.3 L275.2,73.4 L273.2,73.4 L271.2,73.5 L269.2,73.6 L267.3,73.8 L265.3,74.0 L263.4,74.3 L261.5,74.6 L259.6,75.0 L257.7,75.5 L255.9,76.0 L254.2,76.7 L252.5,77.4 L250.8,78.2 L249.2,79.1 L247.6,80.1 L246.1,81.1 L244.6,82.2 L243.2,83.4 L241.8,84.6 L240.4,85.9 L239.1,87.2 L237.8,88.6 L236.5,90.1 L235.3,91.6 L234.1,93.1 L232.9,94.6 L231.8,96.2 L230.6,97.8 L229.5,99.5 L228.4,101.1 L227.4,102.8 L226.3,104.5 L225.3,106.2 L224.3,107.9 L223.3,109.6 L222.3,111.3 L221.4,113.0 L220.4,114.6 L219.4,116.3 L218.5,118.0 L217.5,119.6 L216.5,121.2 L215.6,122.8 L214.6,124.4 L213.5,125.9 L212.5,127.5 L211.3,129.0 L210.2,130.4 L209.0,131.9 L207.8,133.3 L206.5,134.7 L205.2,136.1 L203.9,137.5 L202.6,138.8 L201.2,140.2 L199.8,141.5 L198.4,142.9 L197.0,144.2 L195.6,145.5 L194.2,146.9 L192.8,148.2 L191.4,149.6 L190.0,150.9 L188.6,152.3 L187.2,153.6 L185.9,155.0 L184.6,156.4 L183.3,157.8 L182.0,159.3 L180.7,160.7 L179.4,162.1 L178.1,163.6 L176.9,165.0 L175.6,166.5 L174.4,168.0 L173.1,169.4 L171.9,170.9 L170.6,172.3 L169.4,173.8 L168.2,175.2 L166.9,176.7 L165.6,178.1 L164.4,179.5 L163.1,181.0 L161.8,182.4 L160.5,183.8 L159.2,185.2 L157.8,186.5 L156.5,187.9 L155.1,189.2 L153.7,190.6 L152.3,191.9 L150.9,193.2 L149.6,194.5 L148.2,195.9 L146.8,197.2 L145.4,198.5 L144.0,199.9 L142.7,201.2 L141.3,202.6 L140.0,204.0 L138.7,205.4 L137.5,206.9 L136.2,208.3 L135.0,209.8 L133.8,211.3 L132.7,212.8 L131.6,214.4 L130.5,216.0 L129.5,217.7 L128.5,219.4 L121.9,231.0 L117.2,244.7 L108.1,264.1 L95.0,270.0 L74.4,284.1" fill="none" stroke="#111" stroke-width="1.5" stroke-linejoin="round"/>
<path d="M65.4,298.7 L56.0,320.7" fill="none" stroke="#111" stroke-width="1.5"/>
<circle cx="290.6" cy="73.1" r="2" fill="#000"/>
<circle cx="272.5" cy="73.5" r="2" fill="#000"/>
<circle cx="255.4" cy="76" r="2" fill="#000"/>
<circle cx="240.5" cy="85.7" r="2" fill="#000"/>
<circle cx="229.1" cy="100" r="2" fill="#000"/>
<circle cx="220.6" cy="114.4" r="2" fill="#000"/>
<circle cx="211.2" cy="129.4" r="2" fill="#000"/>
<circle cx="187.5" cy="153.1" r="2" fill="#000"/>
<circle cx="171.2" cy="171.9" r="2" fill="#000"/>
<circle cx="158.7" cy="185.6" r="2" fill="#000"/>
<circle cx="145.4" cy="198.5" r="2" fill="#000"/>
<circle cx="128.5" cy="219.4" r="2" fill="#000"/>
<circle cx="121.9" cy="231" r="2" fill="#000"/>
<circle cx="117.2" cy="244.7" r="2" fill="#000"/>
<circle cx="108.1" cy="264.1" r="2" fill="#000"/>
<circle cx="95" cy="270" r="2" fill="#000"/>
<circle cx="74.4" cy="284.1" r="2" fill="#000"/>
<circle cx="74.4" cy="291.6" r="2" fill="#000"/>
<circle cx="64.4" cy="294" r="2" fill="#000"/>
<circle cx="65.4" cy="298.7" r="2" fill="#000"/>
<circle cx="56" cy="320.7" r="2" fill="#000"/>
<rect x="48.9" y="328.5" width="2.5" height="2.5" fill="#fff" stroke="#000" stroke-width="1"/>
<path d="M48,340.2 L51,337.6 V343 Z" fill="#000" stroke="#000" stroke-width="0.8"/>
<path d="M88.7,286.7h2.5 M98.7,286.7h3.8" stroke="#aaa" stroke-width="0.8"/>
<path d="M108.1,286.6 V272.5" stroke="#000" stroke-width="1.8" fill="none"/>
<path d="M108.1,267.9 L105.19999999999999,273.5 L111.0,273.5 Z" fill="#000"/>
<path d="M74.3,326.2 V293.6" stroke="#000" stroke-width="1.8" fill="none"/>
<path d="M74.3,289 L71.39999999999999,294.6 L77.2,294.6 Z" fill="#000"/>
<text x="89.8" y="299.0" font-size="8.4" textLength="41.2" lengthAdjust="spacingAndGlyphs" fill="#000" stroke="#000" stroke-width="0.3">L-thyroxine</text>
<text x="89.8" y="309.6" font-size="8.4" textLength="34.2" lengthAdjust="spacingAndGlyphs" fill="#000" stroke="#000" stroke-width="0.3">treatment</text>
<text x="57.3" y="336.7" font-size="8.4" textLength="29.8" lengthAdjust="spacingAndGlyphs" fill="#000" stroke="#000" stroke-width="0.3">Onset of</text>
<text x="57.3" y="347.4" font-size="8.4" textLength="54.7" lengthAdjust="spacingAndGlyphs" fill="#000" stroke="#000" stroke-width="0.3">hypothyroidism</text>
<text transform="translate(-1,12.1) scale(1.15,1)" font-size="15" font-weight="bold">a)</text>
<text transform="translate(50.3,408.9) scale(0.92,1)" font-size="9.5" font-weight="bold" text-anchor="start" stroke="#000" stroke-width="0.4" >a)</text>
<text transform="translate(137.5,442.6) scale(0.87,1)" font-size="11" font-weight="bold" text-anchor="start" stroke="#000" stroke-width="0.25" >Height</text>
<text transform="translate(171.3,442.4) scale(0.92,1)" font-size="9.3" font-weight="normal" text-anchor="start" stroke="#000" stroke-width="0.3" >(cm)</text>
<path d="M373.7,9.5 V417.6 H631" fill="none" stroke="#111" stroke-width="1.1"/>
<path d="M371.3,32.5 H373.7" stroke="#111" stroke-width="0.9"/>
<path d="M371.3,59.0 H373.7" stroke="#111" stroke-width="0.9"/>
<path d="M371.3,85.5 H373.7" stroke="#111" stroke-width="0.9"/>
<path d="M371.3,112.0 H373.7" stroke="#111" stroke-width="0.9"/>
<path d="M371.3,138.5 H373.7" stroke="#111" stroke-width="0.9"/>
<path d="M371.3,165.0 H373.7" stroke="#111" stroke-width="0.9"/>
<path d="M371.3,191.5 H373.7" stroke="#111" stroke-width="0.9"/>
<path d="M371.3,218.0 H373.7" stroke="#111" stroke-width="0.9"/>
<path d="M371.3,244.5 H373.7" stroke="#111" stroke-width="0.9"/>
<path d="M371.3,271.0 H373.7" stroke="#111" stroke-width="0.9"/>
<path d="M371.3,297.5 H373.7" stroke="#111" stroke-width="0.9"/>
<path d="M371.3,324.0 H373.7" stroke="#111" stroke-width="0.9"/>
<path d="M371.3,350.5 H373.7" stroke="#111" stroke-width="0.9"/>
<path d="M371.3,377.0 H373.7" stroke="#111" stroke-width="0.9"/>
<text transform="translate(369.5,22.1) scale(0.85,1)" font-size="8.5" font-weight="bold" text-anchor="end" stroke="#000" stroke-width="0.4" >190</text>
<text transform="translate(369.5,48.6) scale(0.85,1)" font-size="8.5" font-weight="bold" text-anchor="end" stroke="#000" stroke-width="0.4" >180</text>
<text transform="translate(369.5,75.1) scale(0.85,1)" font-size="8.5" font-weight="bold" text-anchor="end" stroke="#000" stroke-width="0.4" >170</text>
<text transform="translate(369.5,101.6) scale(0.85,1)" font-size="8.5" font-weight="bold" text-anchor="end" stroke="#000" stroke-width="0.4" >160</text>
<text transform="translate(369.5,128.1) scale(0.85,1)" font-size="8.5" font-weight="bold" text-anchor="end" stroke="#000" stroke-width="0.4" >150</text>
<text transform="translate(369.5,154.6) scale(0.85,1)" font-size="8.5" font-weight="bold" text-anchor="end" stroke="#000" stroke-width="0.4" >140</text>
<text transform="translate(369.5,181.1) scale(0.85,1)" font-size="8.5" font-weight="bold" text-anchor="end" stroke="#000" stroke-width="0.4" >130</text>
<text transform="translate(369.5,207.6) scale(0.85,1)" font-size="8.5" font-weight="bold" text-anchor="end" stroke="#000" stroke-width="0.4" >120</text>
<text transform="translate(369.5,234.1) scale(0.85,1)" font-size="8.5" font-weight="bold" text-anchor="end" stroke="#000" stroke-width="0.4" >110</text>
<text transform="translate(369.5,260.6) scale(0.85,1)" font-size="8.5" font-weight="bold" text-anchor="end" stroke="#000" stroke-width="0.4" >100</text>
<text transform="translate(369.5,287.1) scale(0.85,1)" font-size="8.5" font-weight="bold" text-anchor="end" stroke="#000" stroke-width="0.4" >90</text>
<text transform="translate(369.5,313.6) scale(0.85,1)" font-size="8.5" font-weight="bold" text-anchor="end" stroke="#000" stroke-width="0.4" >80</text>
<text transform="translate(369.5,340.1) scale(0.85,1)" font-size="8.5" font-weight="bold" text-anchor="end" stroke="#000" stroke-width="0.4" >70</text>
<text transform="translate(369.5,366.6) scale(0.85,1)" font-size="8.5" font-weight="bold" text-anchor="end" stroke="#000" stroke-width="0.4" >60</text>
<text transform="translate(369.5,393.1) scale(0.85,1)" font-size="8.5" font-weight="bold" text-anchor="end" stroke="#000" stroke-width="0.4" >50</text>
<text transform="translate(373.3,426.3) scale(0.85,1)" font-size="8.5" font-weight="bold" text-anchor="middle" stroke="#000" stroke-width="0.4" >0</text>
<text transform="translate(386.8,426.3) scale(0.85,1)" font-size="8.5" font-weight="bold" text-anchor="middle" stroke="#000" stroke-width="0.4" >1</text>
<text transform="translate(400.3,426.3) scale(0.85,1)" font-size="8.5" font-weight="bold" text-anchor="middle" stroke="#000" stroke-width="0.4" >2</text>
<text transform="translate(413.8,426.3) scale(0.85,1)" font-size="8.5" font-weight="bold" text-anchor="middle" stroke="#000" stroke-width="0.4" >3</text>
<text transform="translate(427.3,426.3) scale(0.85,1)" font-size="8.5" font-weight="bold" text-anchor="middle" stroke="#000" stroke-width="0.4" >4</text>
<text transform="translate(440.8,426.3) scale(0.85,1)" font-size="8.5" font-weight="bold" text-anchor="middle" stroke="#000" stroke-width="0.4" >5</text>
<text transform="translate(454.2,426.3) scale(0.85,1)" font-size="8.5" font-weight="bold" text-anchor="middle" stroke="#000" stroke-width="0.4" >6</text>
<text transform="translate(467.7,426.3) scale(0.85,1)" font-size="8.5" font-weight="bold" text-anchor="middle" stroke="#000" stroke-width="0.4" >7</text>
<text transform="translate(481.2,426.3) scale(0.85,1)" font-size="8.5" font-weight="bold" text-anchor="middle" stroke="#000" stroke-width="0.4" >8</text>
<text transform="translate(494.7,426.3) scale(0.85,1)" font-size="8.5" font-weight="bold" text-anchor="middle" stroke="#000" stroke-width="0.4" >9</text>
<text transform="translate(508.2,426.3) scale(0.85,1)" font-size="8.5" font-weight="bold" text-anchor="middle" stroke="#000" stroke-width="0.4" >10</text>
<text transform="translate(521.7,426.3) scale(0.85,1)" font-size="8.5" font-weight="bold" text-anchor="middle" stroke="#000" stroke-width="0.4" >11</text>
<text transform="translate(535.2,426.3) scale(0.85,1)" font-size="8.5" font-weight="bold" text-anchor="middle" stroke="#000" stroke-width="0.4" >12</text>
<text transform="translate(548.7,426.3) scale(0.85,1)" font-size="8.5" font-weight="bold" text-anchor="middle" stroke="#000" stroke-width="0.4" >13</text>
<text transform="translate(562.2,426.3) scale(0.85,1)" font-size="8.5" font-weight="bold" text-anchor="middle" stroke="#000" stroke-width="0.4" >14</text>
<text transform="translate(575.6,426.3) scale(0.85,1)" font-size="8.5" font-weight="bold" text-anchor="middle" stroke="#000" stroke-width="0.4" >15</text>
<text transform="translate(589.1,426.3) scale(0.85,1)" font-size="8.5" font-weight="bold" text-anchor="middle" stroke="#000" stroke-width="0.4" >16</text>
<text transform="translate(602.6,426.3) scale(0.85,1)" font-size="8.5" font-weight="bold" text-anchor="middle" stroke="#000" stroke-width="0.4" >17</text>
<text transform="translate(616.1,426.3) scale(0.85,1)" font-size="8.5" font-weight="bold" text-anchor="middle" stroke="#000" stroke-width="0.4" >18</text>
<text transform="translate(629.6,426.3) scale(0.85,1)" font-size="8.5" font-weight="bold" text-anchor="middle" stroke="#000" stroke-width="0.4" >19</text>
<path d="M628.3,61.6 L626.9,61.8 L625.5,61.9 L624.2,62.0 L622.8,62.0 L621.4,62.1 L619.9,62.1 L618.5,62.2 L617.1,62.2 L615.7,62.2 L614.3,62.2 L612.8,62.1 L611.4,62.1 L609.9,62.1 L608.5,62.0 L607.1,62.0 L605.6,61.9 L604.1,61.9 L602.7,61.8 L601.2,61.8 L599.8,61.7 L598.3,61.7 L596.9,61.6 L595.4,61.6 L593.9,61.6 L592.5,61.6 L591.0,61.6 L589.6,61.6 L588.1,61.6 L586.7,61.6 L585.2,61.7 L583.8,61.7 L582.3,61.8 L580.9,62.0 L579.4,62.1 L578.0,62.2 L576.5,62.4 L575.1,62.6 L573.7,62.9 L572.3,63.1 L570.9,63.4 L569.5,63.7 L568.1,64.1 L566.7,64.5 L565.4,64.9 L564.0,65.4 L562.7,65.8 L561.4,66.4 L560.1,66.9 L558.9,67.5 L557.6,68.2 L556.4,68.8 L555.2,69.6 L554.1,70.3 L553.0,71.1 L551.9,72.0 L550.8,72.9 L549.8,73.8 L548.8,74.7 L547.8,75.7 L546.8,76.8 L545.9,77.8 L545.0,78.9 L544.1,80.0 L543.2,81.1 L542.3,82.3 L541.5,83.5 L540.6,84.6 L539.8,85.8 L539.0,87.0 L538.1,88.2 L537.3,89.4 L536.5,90.6 L535.7,91.8 L534.9,93.0 L534.0,94.2 L533.2,95.4 L532.4,96.6 L531.6,97.8 L530.7,99.0 L529.9,100.2 L529.1,101.4 L528.3,102.6 L527.4,103.7 L526.6,104.9 L525.8,106.1 L524.9,107.3 L524.1,108.4 L523.3,109.6 L522.4,110.8 L521.6,111.9 L520.7,113.1 L519.9,114.2 L519.1,115.4 L518.2,116.6 L517.4,117.7 L516.5,118.9 L515.6,120.0 L514.8,121.1 L513.9,122.3 L513.1,123.4 L512.2,124.6 L511.3,125.7 L510.5,126.8 L509.6,128.0 L508.7,129.1 L507.8,130.2 L506.9,131.3 L506.1,132.5 L505.2,133.6 L504.3,134.7 L503.4,135.8 L502.5,136.9 L501.6,138.0 L500.7,139.1 L499.8,140.2 L498.8,141.3 L497.9,142.4 L497.0,143.5 L496.1,144.6 L495.2,145.7 L494.2,146.8 L493.3,147.9 L492.4,149.0 L491.4,150.1 L490.5,151.2 L489.6,152.3 L488.6,153.4 L487.7,154.5 L486.8,155.6 L485.8,156.6 L484.9,157.7 L483.9,158.8 L483.0,159.9 L482.0,161.0 L481.1,162.1 L480.2,163.2 L479.2,164.3 L478.3,165.3 L477.3,166.4 L476.4,167.5 L475.4,168.6 L474.5,169.7 L473.6,170.8 L472.6,171.9 L471.7,173.0 L470.7,174.1 L469.8,175.1 L468.9,176.2 L467.9,177.3 L467.0,178.4 L466.1,179.5 L465.2,180.6 L464.2,181.7 L463.3,182.8 L462.4,183.9 L461.5,185.1 L460.6,186.2 L459.6,187.3 L458.7,188.4 L457.8,189.5 L456.9,190.6 L456.0,191.8 L455.1,192.9 L454.3,194.0 L453.4,195.1 L452.5,196.3 L451.6,197.4 L450.7,198.5 L449.9,199.7 L449.0,200.8 L448.1,202.0 L447.3,203.1 L446.4,204.3 L445.6,205.5 L444.8,206.6 L443.9,207.8 L443.1,209.0 L442.3,210.1 L441.5,211.3 L440.7,212.5 L439.9,213.7 L439.1,214.9 L438.3,216.1 L437.5,217.3 L436.7,218.5 L436.0,219.7 L435.2,220.9 L434.4,222.1 L433.7,223.4 L432.9,224.6 L432.2,225.8 L431.4,227.0 L430.7,228.3 L430.0,229.5 L429.2,230.8 L428.5,232.0 L427.8,233.2 L427.1,234.5 L426.4,235.7 L425.7,237.0 L424.9,238.2 L424.2,239.5 L423.5,240.8 L422.8,242.0 L422.1,243.3 L421.4,244.5 L420.7,245.8 L420.1,247.1 L419.4,248.3 L418.7,249.6 L418.0,250.8 L417.3,252.1 L416.6,253.4 L415.9,254.6 L415.2,255.9 L414.5,257.2 L413.8,258.4 L413.1,259.7 L412.4,260.9 L411.7,262.2 L411.0,263.4 L410.3,264.7 L409.6,266.0 L408.9,267.2 L408.2,268.5 L407.5,269.7 L406.8,270.9 L406.1,272.2 L405.4,273.4 L404.7,274.7 L404.0,275.9 L403.2,277.1 L402.5,278.4 L401.8,279.6 L401.0,280.8 L400.3,282.0 L399.5,283.3 L398.8,284.5 L398.0,285.7" fill="none" stroke="#1a1a1a" stroke-width="1.25"/>
<path d="M628.4,71.9 L626.6,72.1 L624.8,72.2 L623.0,72.3 L621.2,72.4 L619.4,72.5 L617.6,72.5 L615.8,72.5 L614.0,72.5 L612.2,72.5 L610.3,72.4 L608.5,72.4 L606.7,72.3 L604.8,72.3 L603.0,72.3 L601.2,72.2 L599.3,72.2 L597.5,72.1 L595.6,72.1 L593.7,72.1 L591.9,72.1 L590.0,72.2 L588.2,72.3 L586.3,72.3 L584.5,72.5 L582.6,72.6 L580.8,72.8 L578.9,73.1 L577.1,73.3 L575.3,73.6 L573.5,74.0 L571.7,74.4 L570.0,74.8 L568.2,75.3 L566.5,75.8 L564.8,76.4 L563.2,77.0 L561.5,77.7 L559.9,78.4 L558.4,79.2 L556.8,80.0 L555.3,80.9 L553.9,81.9 L552.5,82.9 L551.1,84.0 L549.8,85.1 L548.5,86.3 L547.3,87.5 L546.0,88.8 L544.9,90.1 L543.7,91.5 L542.6,92.9 L541.5,94.3 L540.4,95.8 L539.3,97.3 L538.3,98.8 L537.2,100.4 L536.2,101.9 L535.2,103.5 L534.2,105.1 L533.2,106.7 L532.2,108.3 L531.2,109.9 L530.2,111.5 L529.2,113.1 L528.2,114.7 L527.2,116.3 L526.1,117.8 L525.1,119.4 L524.0,120.9 L522.9,122.4 L521.9,123.9 L520.8,125.3 L519.6,126.8 L518.5,128.2 L517.4,129.7 L516.2,131.1 L515.1,132.5 L513.9,133.9 L512.7,135.3 L511.6,136.6 L510.4,138.0 L509.2,139.4 L508.0,140.7 L506.8,142.1 L505.6,143.4 L504.4,144.8 L503.2,146.1 L502.0,147.5 L500.8,148.8 L499.5,150.2 L498.3,151.5 L497.1,152.9 L495.9,154.2 L494.7,155.6 L493.5,156.9 L492.3,158.3 L491.1,159.7 L489.9,161.0 L488.7,162.4 L487.5,163.8 L486.3,165.1 L485.1,166.5 L483.9,167.9 L482.7,169.2 L481.5,170.6 L480.3,172.0 L479.1,173.4 L477.9,174.8 L476.7,176.1 L475.5,177.5 L474.4,178.9 L473.2,180.3 L472.0,181.7 L470.8,183.1 L469.7,184.5 L468.5,185.9 L467.3,187.3 L466.2,188.7 L465.0,190.1 L463.8,191.6 L462.7,193.0 L461.5,194.4 L460.4,195.8 L459.2,197.3 L458.1,198.7 L457.0,200.1 L455.8,201.6 L454.7,203.0 L453.6,204.4 L452.5,205.9 L451.4,207.3 L450.3,208.8 L449.1,210.2 L448.0,211.7 L447.0,213.2 L445.9,214.6 L444.8,216.1 L443.7,217.6 L442.6,219.1 L441.6,220.5 L440.5,222.0 L439.4,223.5 L438.4,225.0 L437.3,226.5 L436.3,228.0 L435.3,229.5 L434.2,231.0 L433.2,232.6 L432.2,234.1 L431.2,235.6 L430.2,237.1 L429.2,238.7 L428.2,240.2 L427.2,241.8 L426.2,243.3 L425.3,244.9 L424.3,246.4 L423.4,248.0 L422.4,249.5 L421.5,251.1 L420.5,252.7 L419.6,254.2 L418.7,255.8 L417.8,257.4 L416.9,259.0 L416.0,260.6 L415.1,262.2 L414.2,263.8 L413.3,265.4 L412.5,267.0 L411.6,268.6 L410.8,270.2 L409.9,271.8 L409.1,273.5 L408.2,275.1 L407.4,276.7 L406.6,278.4 L405.8,280.0 L405.0,281.6 L404.2,283.3 L403.4,284.9 L402.7,286.6 L401.9,288.2 L401.2,289.9 L400.4,291.6 L399.7,293.2 L398.9,294.9 L398.2,296.6 L397.5,298.3 L396.8,299.9 L396.1,301.6 L395.4,303.3 L394.7,305.0 L394.1,306.7 L393.4,308.4 L392.8,310.1 L392.1,311.8 L391.5,313.5 L390.9,315.2 L390.3,317.0 L389.7,318.7 L389.1,320.4 L388.5,322.1 L387.9,323.8 L387.3,325.6 L386.8,327.3 L386.2,329.1 L385.7,330.8 L385.2,332.5 L384.7,334.3 L384.2,336.0 L383.7,337.8 L383.2,339.6 L382.7,341.3 L382.2,343.1 L381.8,344.9 L381.3,346.6 L380.9,348.4 L380.5,350.2 L380.1,352.0 L379.7,353.7 L379.3,355.5 L378.9,357.3 L378.5,359.1 L378.2,360.9 L377.8,362.7 L377.5,364.5 L377.1,366.3 L376.8,368.1 L376.5,369.9 L376.2,371.7 L375.9,373.5 L375.7,375.3 L375.4,377.2 L375.2,379.0 L374.9,380.8 L374.7,382.6 L374.5,384.5 L374.3,386.3" fill="none" stroke="#111" stroke-width="1.4" stroke-dasharray="3.6 2.4"/>
<path d="M628.5,82.4 L627.1,82.4 L625.7,82.5 L624.3,82.5 L623.0,82.5 L621.6,82.6 L620.2,82.6 L618.8,82.6 L617.4,82.7 L616.1,82.7 L614.7,82.7 L613.3,82.8 L612.0,82.8 L610.6,82.8 L609.2,82.8 L607.8,82.8 L606.5,82.8 L605.1,82.8 L603.7,82.8 L602.3,82.8 L600.9,82.8 L599.6,82.7 L598.2,82.7 L596.8,82.7 L595.4,82.7 L594.0,82.7 L592.6,82.6 L591.2,82.6 L589.9,82.6 L588.5,82.7 L587.1,82.7 L585.7,82.7 L584.3,82.8 L582.9,82.8 L581.5,82.9 L580.1,83.0 L578.7,83.1 L577.3,83.3 L575.9,83.4 L574.6,83.6 L573.2,83.8 L571.8,84.0 L570.4,84.3 L569.0,84.6 L567.7,84.9 L566.3,85.3 L565.0,85.6 L563.7,86.1 L562.4,86.5 L561.1,87.0 L559.9,87.5 L558.7,88.1 L557.5,88.7 L556.4,89.4 L555.2,90.1 L554.1,90.9 L553.1,91.7 L552.1,92.5 L551.1,93.4 L550.1,94.3 L549.2,95.3 L548.3,96.3 L547.4,97.3 L546.6,98.3 L545.7,99.4 L544.9,100.5 L544.1,101.6 L543.3,102.8 L542.6,103.9 L541.8,105.1 L541.0,106.3 L540.3,107.5 L539.5,108.7 L538.8,109.9 L538.1,111.1 L537.3,112.3 L536.6,113.5 L535.8,114.7 L535.0,115.9 L534.3,117.0 L533.5,118.2 L532.7,119.4 L531.9,120.5 L531.1,121.7 L530.3,122.8 L529.5,124.0 L528.7,125.1 L527.9,126.2 L527.1,127.3 L526.3,128.5 L525.4,129.6 L524.6,130.7 L523.8,131.8 L522.9,132.9 L522.1,133.9 L521.2,135.0 L520.4,136.1 L519.5,137.2 L518.6,138.2 L517.8,139.3 L516.9,140.4 L516.0,141.4 L515.1,142.5 L514.2,143.5 L513.3,144.6 L512.5,145.6 L511.6,146.7 L510.7,147.7 L509.8,148.7 L508.9,149.8 L507.9,150.8 L507.0,151.8 L506.1,152.8 L505.2,153.9 L504.3,154.9 L503.4,155.9 L502.5,156.9 L501.5,157.9 L500.6,158.9 L499.7,160.0 L498.8,161.0 L497.8,162.0 L496.9,163.0 L496.0,164.0 L495.0,165.0 L494.1,166.0 L493.2,167.0 L492.2,168.0 L491.3,169.0 L490.4,170.0 L489.4,171.1 L488.5,172.1 L487.6,173.1 L486.7,174.1 L485.7,175.1 L484.8,176.1 L483.9,177.1 L482.9,178.1 L482.0,179.2 L481.1,180.2 L480.1,181.2 L479.2,182.2 L478.3,183.2 L477.4,184.2 L476.4,185.3 L475.5,186.3 L474.6,187.3 L473.7,188.3 L472.7,189.4 L471.8,190.4 L470.9,191.4 L470.0,192.5 L469.1,193.5 L468.2,194.5 L467.3,195.6 L466.4,196.6 L465.5,197.7 L464.6,198.7 L463.7,199.7 L462.8,200.8 L461.9,201.8 L461.0,202.9 L460.1,203.9 L459.2,205.0 L458.3,206.1 L457.4,207.1 L456.6,208.2 L455.7,209.3 L454.8,210.3 L453.9,211.4 L453.1,212.5 L452.2,213.5 L451.4,214.6 L450.5,215.7 L449.7,216.8 L448.8,217.9 L448.0,219.0 L447.1,220.1 L446.3,221.2 L445.5,222.3 L444.6,223.4 L443.8,224.5 L443.0,225.6 L442.2,226.7 L441.4,227.8 L440.6,228.9 L439.8,230.1 L439.0,231.2 L438.2,232.3 L437.4,233.5 L436.6,234.6 L435.9,235.7 L435.1,236.9 L434.3,238.0 L433.6,239.2 L432.8,240.3 L432.1,241.5 L431.3,242.7 L430.6,243.8 L429.9,245.0 L429.1,246.2 L428.4,247.4 L427.7,248.5 L427.0,249.7 L426.3,250.9 L425.6,252.1 L424.9,253.3 L424.2,254.5 L423.5,255.7 L422.8,256.9 L422.1,258.1 L421.4,259.3 L420.7,260.5 L420.0,261.7 L419.4,262.9 L418.7,264.1 L418.0,265.3 L417.3,266.5 L416.6,267.7 L415.9,268.9 L415.2,270.1 L414.5,271.3 L413.8,272.4 L413.1,273.6 L412.4,274.8 L411.7,276.0 L411.0,277.2 L410.3,278.4 L409.5,279.5 L408.8,280.7 L408.1,281.9 L407.3,283.0 L406.6,284.2 L405.8,285.3 L405.1,286.5 L404.3,287.6 L403.5,288.7 L402.7,289.8 L401.9,291.0 L401.1,292.1" fill="none" stroke="#1a1a1a" stroke-width="1.25"/>
<path d="M628.3,92.8 L627.0,92.9 L625.7,93.0 L624.3,93.1 L623.0,93.1 L621.7,93.2 L620.3,93.2 L619.0,93.3 L617.6,93.3 L616.3,93.3 L614.9,93.3 L613.6,93.3 L612.2,93.3 L610.8,93.3 L609.5,93.2 L608.1,93.2 L606.7,93.2 L605.3,93.1 L603.9,93.1 L602.5,93.1 L601.1,93.0 L599.7,93.0 L598.3,93.0 L596.9,92.9 L595.5,92.9 L594.1,92.9 L592.7,92.9 L591.3,92.9 L589.9,92.9 L588.5,92.9 L587.1,92.9 L585.7,93.0 L584.3,93.1 L582.9,93.2 L581.5,93.3 L580.2,93.4 L578.8,93.5 L577.4,93.7 L576.1,93.9 L574.7,94.1 L573.4,94.4 L572.1,94.6 L570.7,94.9 L569.4,95.3 L568.1,95.6 L566.8,96.0 L565.6,96.5 L564.3,96.9 L563.1,97.4 L561.8,97.9 L560.6,98.5 L559.4,99.1 L558.3,99.7 L557.1,100.4 L556.0,101.1 L554.9,101.8 L553.8,102.6 L552.7,103.4 L551.7,104.2 L550.7,105.0 L549.7,105.9 L548.7,106.8 L547.8,107.8 L546.9,108.8 L546.0,109.8 L545.1,110.8 L544.2,111.8 L543.4,112.9 L542.5,114.0 L541.7,115.1 L540.9,116.2 L540.1,117.4 L539.4,118.5 L538.6,119.7 L537.8,120.8 L537.1,122.0 L536.3,123.2 L535.6,124.3 L534.8,125.5 L534.1,126.7 L533.3,127.9 L532.5,129.1 L531.8,130.2 L531.0,131.4 L530.2,132.6 L529.5,133.7 L528.7,134.9 L527.9,136.0 L527.1,137.1 L526.3,138.3 L525.4,139.4 L524.6,140.5 L523.8,141.6 L523.0,142.7 L522.1,143.8 L521.3,144.9 L520.4,146.0 L519.6,147.0 L518.7,148.1 L517.9,149.2 L517.0,150.2 L516.1,151.3 L515.2,152.4 L514.4,153.4 L513.5,154.4 L512.6,155.5 L511.7,156.5 L510.8,157.6 L509.9,158.6 L509.0,159.6 L508.1,160.6 L507.2,161.7 L506.3,162.7 L505.4,163.7 L504.4,164.7 L503.5,165.7 L502.6,166.7 L501.7,167.7 L500.8,168.7 L499.8,169.7 L498.9,170.8 L498.0,171.8 L497.1,172.8 L496.1,173.8 L495.2,174.8 L494.3,175.7 L493.3,176.7 L492.4,177.7 L491.5,178.7 L490.5,179.7 L489.6,180.7 L488.7,181.7 L487.8,182.7 L486.8,183.7 L485.9,184.7 L485.0,185.7 L484.0,186.7 L483.1,187.7 L482.2,188.8 L481.3,189.8 L480.3,190.8 L479.4,191.8 L478.5,192.8 L477.6,193.8 L476.7,194.8 L475.7,195.8 L474.8,196.9 L473.9,197.9 L473.0,198.9 L472.1,199.9 L471.2,201.0 L470.3,202.0 L469.4,203.0 L468.5,204.0 L467.6,205.1 L466.7,206.1 L465.8,207.1 L464.9,208.2 L464.0,209.2 L463.1,210.3 L462.2,211.3 L461.3,212.3 L460.5,213.4 L459.6,214.4 L458.7,215.5 L457.8,216.5 L456.9,217.6 L456.1,218.6 L455.2,219.7 L454.3,220.8 L453.5,221.8 L452.6,222.9 L451.7,223.9 L450.9,225.0 L450.0,226.1 L449.2,227.2 L448.3,228.2 L447.5,229.3 L446.6,230.4 L445.8,231.5 L445.0,232.5 L444.1,233.6 L443.3,234.7 L442.5,235.8 L441.6,236.9 L440.8,238.0 L440.0,239.1 L439.2,240.2 L438.4,241.3 L437.5,242.4 L436.7,243.5 L435.9,244.6 L435.1,245.7 L434.3,246.8 L433.5,247.9 L432.7,249.1 L432.0,250.2 L431.2,251.3 L430.4,252.4 L429.6,253.6 L428.8,254.7 L428.1,255.8 L427.3,257.0 L426.6,258.1 L425.8,259.2 L425.0,260.4 L424.3,261.5 L423.5,262.7 L422.8,263.8 L422.1,265.0 L421.3,266.1 L420.6,267.3 L419.9,268.5 L419.2,269.6 L418.4,270.8 L417.7,272.0 L417.0,273.1 L416.3,274.3 L415.6,275.5 L414.9,276.7 L414.2,277.9 L413.5,279.0 L412.9,280.2 L412.2,281.4 L411.5,282.6 L410.8,283.8 L410.2,285.0 L409.5,286.2 L408.9,287.5 L408.2,288.7 L407.6,289.9 L406.9,291.1 L406.3,292.3 L405.7,293.5 L405.0,294.8 L404.4,296.0 L403.8,297.2 L403.2,298.5 L402.6,299.7 L402.0,301.0" fill="none" stroke="#111" stroke-width="1.4" stroke-dasharray="3.6 2.4"/>
<path d="M628.4,103.2 L627.1,103.4 L625.7,103.5 L624.4,103.6 L623.1,103.6 L621.8,103.7 L620.4,103.8 L619.1,103.8 L617.7,103.8 L616.4,103.8 L615.1,103.8 L613.7,103.8 L612.4,103.8 L611.0,103.8 L609.7,103.8 L608.3,103.7 L606.9,103.7 L605.6,103.7 L604.2,103.6 L602.9,103.6 L601.5,103.5 L600.1,103.5 L598.8,103.5 L597.4,103.4 L596.0,103.4 L594.7,103.4 L593.3,103.3 L591.9,103.3 L590.6,103.3 L589.2,103.3 L587.8,103.3 L586.5,103.4 L585.1,103.4 L583.7,103.4 L582.4,103.5 L581.0,103.6 L579.6,103.7 L578.3,103.8 L576.9,103.9 L575.6,104.1 L574.3,104.3 L572.9,104.5 L571.6,104.8 L570.3,105.0 L569.0,105.4 L567.8,105.7 L566.5,106.1 L565.3,106.5 L564.0,107.0 L562.8,107.5 L561.6,108.0 L560.4,108.5 L559.3,109.1 L558.1,109.8 L557.0,110.4 L555.9,111.1 L554.8,111.8 L553.7,112.5 L552.6,113.3 L551.6,114.1 L550.6,114.9 L549.6,115.8 L548.6,116.6 L547.7,117.6 L546.7,118.5 L545.8,119.4 L544.9,120.4 L544.1,121.4 L543.2,122.5 L542.4,123.5 L541.6,124.6 L540.8,125.7 L540.0,126.8 L539.3,127.9 L538.5,129.1 L537.8,130.2 L537.1,131.4 L536.4,132.6 L535.6,133.7 L534.9,134.9 L534.2,136.1 L533.5,137.3 L532.9,138.5 L532.2,139.7 L531.5,140.9 L530.8,142.1 L530.1,143.3 L529.4,144.5 L528.6,145.7 L527.9,146.9 L527.2,148.0 L526.4,149.2 L525.7,150.3 L524.9,151.5 L524.1,152.6 L523.3,153.7 L522.5,154.8 L521.7,155.9 L520.9,156.9 L520.1,158.0 L519.2,159.0 L518.4,160.1 L517.5,161.1 L516.6,162.2 L515.8,163.2 L514.9,164.2 L514.0,165.2 L513.1,166.2 L512.2,167.2 L511.3,168.2 L510.4,169.2 L509.4,170.2 L508.5,171.1 L507.6,172.1 L506.7,173.1 L505.8,174.1 L504.8,175.1 L503.9,176.0 L503.0,177.0 L502.0,178.0 L501.1,179.0 L500.2,179.9 L499.3,180.9 L498.3,181.9 L497.4,182.9 L496.5,183.9 L495.6,184.9 L494.7,185.8 L493.7,186.8 L492.8,187.8 L491.9,188.8 L491.0,189.8 L490.1,190.8 L489.1,191.8 L488.2,192.8 L487.3,193.8 L486.4,194.8 L485.5,195.7 L484.6,196.7 L483.7,197.7 L482.8,198.7 L481.8,199.7 L480.9,200.7 L480.0,201.7 L479.1,202.8 L478.2,203.8 L477.3,204.8 L476.4,205.8 L475.5,206.8 L474.6,207.8 L473.7,208.8 L472.8,209.8 L471.9,210.8 L471.0,211.8 L470.1,212.9 L469.3,213.9 L468.4,214.9 L467.5,215.9 L466.6,216.9 L465.7,218.0 L464.8,219.0 L463.9,220.0 L463.1,221.0 L462.2,222.1 L461.3,223.1 L460.4,224.1 L459.5,225.1 L458.7,226.2 L457.8,227.2 L456.9,228.2 L456.1,229.3 L455.2,230.3 L454.3,231.4 L453.5,232.4 L452.6,233.4 L451.7,234.5 L450.9,235.5 L450.0,236.6 L449.2,237.6 L448.3,238.7 L447.5,239.7 L446.6,240.8 L445.8,241.8 L444.9,242.9 L444.1,244.0 L443.2,245.0 L442.4,246.1 L441.6,247.1 L440.7,248.2 L439.9,249.3 L439.1,250.3 L438.2,251.4 L437.4,252.5 L436.6,253.5 L435.8,254.6 L434.9,255.7 L434.1,256.8 L433.3,257.8 L432.5,258.9 L431.7,260.0 L430.9,261.1 L430.1,262.2 L429.3,263.3 L428.5,264.3 L427.7,265.4 L426.9,266.5 L426.1,267.6 L425.3,268.7 L424.5,269.8 L423.7,270.9 L422.9,272.0 L422.1,273.1 L421.3,274.2 L420.6,275.3 L419.8,276.4 L419.0,277.5 L418.2,278.6 L417.5,279.8 L416.7,280.9 L415.9,282.0 L415.2,283.1 L414.4,284.2 L413.7,285.3 L412.9,286.5 L412.2,287.6 L411.4,288.7 L410.7,289.8 L409.9,291.0 L409.2,292.1 L408.5,293.2 L407.7,294.4 L407.0,295.5 L406.3,296.6 L405.6,297.8 L404.8,298.9 L404.1,300.1 L403.4,301.2 L402.7,302.4 L402.0,303.5 L401.3,304.7" fill="none" stroke="#1a1a1a" stroke-width="1.25"/>
<path d="M628.5,114.0 L627.2,114.0 L625.8,114.1 L624.5,114.1 L623.1,114.1 L621.8,114.2 L620.5,114.2 L619.1,114.2 L617.8,114.2 L616.5,114.2 L615.1,114.2 L613.8,114.3 L612.5,114.3 L611.1,114.3 L609.8,114.3 L608.5,114.3 L607.2,114.3 L605.8,114.3 L604.5,114.3 L603.2,114.3 L601.8,114.3 L600.5,114.3 L599.2,114.2 L597.9,114.2 L596.5,114.2 L595.2,114.2 L593.9,114.2 L592.5,114.3 L591.2,114.3 L589.8,114.3 L588.5,114.3 L587.1,114.3 L585.8,114.3 L584.4,114.3 L583.1,114.3 L581.7,114.4 L580.4,114.4 L579.0,114.4 L577.6,114.5 L576.3,114.6 L574.9,114.6 L573.6,114.8 L572.2,114.9 L570.9,115.1 L569.6,115.3 L568.3,115.5 L567.0,115.8 L565.8,116.2 L564.5,116.6 L563.3,117.0 L562.1,117.5 L560.9,118.0 L559.8,118.6 L558.7,119.3 L557.6,120.0 L556.5,120.7 L555.4,121.4 L554.4,122.2 L553.3,123.1 L552.3,123.9 L551.3,124.8 L550.4,125.7 L549.4,126.7 L548.5,127.6 L547.6,128.6 L546.7,129.6 L545.8,130.6 L544.9,131.6 L544.1,132.6 L543.3,133.7 L542.4,134.7 L541.6,135.8 L540.8,136.9 L540.0,137.9 L539.3,139.0 L538.5,140.1 L537.7,141.2 L537.0,142.3 L536.2,143.4 L535.5,144.5 L534.7,145.7 L534.0,146.8 L533.3,147.9 L532.5,149.0 L531.8,150.1 L531.1,151.3 L530.3,152.4 L529.6,153.5 L528.9,154.6 L528.1,155.7 L527.4,156.8 L526.6,157.9 L525.9,159.0 L525.1,160.1 L524.3,161.2 L523.5,162.3 L522.7,163.4 L521.9,164.4 L521.1,165.5 L520.3,166.5 L519.5,167.6 L518.6,168.6 L517.8,169.6 L517.0,170.7 L516.1,171.7 L515.2,172.7 L514.4,173.7 L513.5,174.7 L512.6,175.7 L511.8,176.7 L510.9,177.7 L510.0,178.7 L509.1,179.7 L508.2,180.7 L507.3,181.7 L506.4,182.7 L505.5,183.7 L504.6,184.7 L503.7,185.6 L502.8,186.6 L501.9,187.6 L501.0,188.6 L500.1,189.5 L499.2,190.5 L498.3,191.5 L497.4,192.5 L496.4,193.4 L495.5,194.4 L494.6,195.4 L493.7,196.4 L492.8,197.3 L491.9,198.3 L491.0,199.3 L490.1,200.3 L489.2,201.3 L488.3,202.2 L487.4,203.2 L486.5,204.2 L485.5,205.2 L484.6,206.1 L483.7,207.1 L482.8,208.1 L481.9,209.1 L481.0,210.1 L480.1,211.0 L479.2,212.0 L478.3,213.0 L477.4,214.0 L476.5,215.0 L475.6,216.0 L474.7,216.9 L473.8,217.9 L472.9,218.9 L472.0,219.9 L471.1,220.9 L470.2,221.9 L469.3,222.9 L468.5,223.9 L467.6,224.9 L466.7,225.8 L465.8,226.8 L464.9,227.8 L464.0,228.8 L463.1,229.8 L462.2,230.8 L461.4,231.8 L460.5,232.8 L459.6,233.8 L458.7,234.8 L457.8,235.8 L457.0,236.8 L456.1,237.8 L455.2,238.8 L454.3,239.8 L453.5,240.8 L452.6,241.9 L451.7,242.9 L450.9,243.9 L450.0,244.9 L449.1,245.9 L448.3,246.9 L447.4,247.9 L446.6,249.0 L445.7,250.0 L444.9,251.0 L444.0,252.0 L443.2,253.0 L442.3,254.1 L441.5,255.1 L440.6,256.1 L439.8,257.2 L438.9,258.2 L438.1,259.2 L437.3,260.3 L436.4,261.3 L435.6,262.3 L434.8,263.4 L434.0,264.4 L433.1,265.5 L432.3,266.5 L431.5,267.6 L430.7,268.6 L429.9,269.7 L429.0,270.7 L428.2,271.8 L427.4,272.8 L426.6,273.9 L425.8,275.0 L425.0,276.0 L424.2,277.1 L423.4,278.2 L422.6,279.2 L421.9,280.3 L421.1,281.4 L420.3,282.5 L419.5,283.5 L418.7,284.6 L418.0,285.7 L417.2,286.8 L416.4,287.9 L415.7,289.0 L414.9,290.1 L414.1,291.2 L413.4,292.3 L412.6,293.4 L411.9,294.5 L411.1,295.6 L410.4,296.7 L409.6,297.8 L408.9,298.9 L408.2,300.0 L407.4,301.2 L406.7,302.3 L406.0,303.4 L405.3,304.5 L404.6,305.7 L403.8,306.8 L403.1,307.9 L402.4,309.1 L401.7,310.2" fill="none" stroke="#111" stroke-width="1.4" stroke-dasharray="3.6 2.4"/>
<path d="M628.5,121.6 L627.2,121.8 L625.9,121.9 L624.6,122.0 L623.3,122.1 L622.0,122.1 L620.7,122.2 L619.4,122.2 L618.1,122.2 L616.8,122.3 L615.5,122.3 L614.1,122.2 L612.8,122.2 L611.5,122.2 L610.2,122.2 L608.9,122.1 L607.6,122.1 L606.3,122.0 L605.0,122.0 L603.7,121.9 L602.4,121.9 L601.0,121.9 L599.7,121.8 L598.4,121.8 L597.1,121.7 L595.8,121.7 L594.5,121.7 L593.2,121.7 L591.8,121.7 L590.5,121.7 L589.2,121.7 L587.9,121.8 L586.6,121.8 L585.3,121.9 L584.0,122.0 L582.7,122.1 L581.3,122.2 L580.0,122.4 L578.7,122.5 L577.4,122.7 L576.1,123.0 L574.8,123.2 L573.5,123.4 L572.3,123.7 L571.0,124.0 L569.7,124.4 L568.5,124.7 L567.2,125.1 L566.0,125.5 L564.8,125.9 L563.6,126.4 L562.4,126.9 L561.2,127.4 L560.0,127.9 L558.9,128.5 L557.8,129.0 L556.7,129.7 L555.6,130.3 L554.5,131.0 L553.5,131.7 L552.4,132.4 L551.4,133.2 L550.5,134.0 L549.5,134.8 L548.6,135.7 L547.7,136.5 L546.8,137.5 L546.0,138.4 L545.2,139.4 L544.4,140.4 L543.6,141.5 L542.9,142.6 L542.2,143.7 L541.6,144.8 L540.9,146.0 L540.3,147.2 L539.7,148.4 L539.1,149.6 L538.5,150.9 L537.9,152.1 L537.3,153.3 L536.8,154.6 L536.2,155.8 L535.6,157.0 L535.0,158.2 L534.3,159.4 L533.7,160.6 L533.0,161.7 L532.3,162.8 L531.6,163.9 L530.9,165.0 L530.1,166.1 L529.3,167.1 L528.6,168.1 L527.8,169.1 L526.9,170.1 L526.1,171.1 L525.3,172.1 L524.4,173.1 L523.6,174.1 L522.7,175.0 L521.9,176.0 L521.0,177.0 L520.1,177.9 L519.2,178.9 L518.4,179.8 L517.5,180.8 L516.6,181.7 L515.7,182.7 L514.8,183.6 L513.9,184.5 L513.0,185.5 L512.0,186.4 L511.1,187.4 L510.2,188.3 L509.3,189.2 L508.4,190.1 L507.4,191.1 L506.5,192.0 L505.6,192.9 L504.7,193.9 L503.7,194.8 L502.8,195.7 L501.9,196.6 L500.9,197.6 L500.0,198.5 L499.1,199.4 L498.2,200.4 L497.2,201.3 L496.3,202.2 L495.4,203.2 L494.5,204.1 L493.6,205.0 L492.7,206.0 L491.7,206.9 L490.8,207.9 L489.9,208.8 L489.0,209.7 L488.1,210.7 L487.2,211.6 L486.3,212.6 L485.4,213.5 L484.5,214.5 L483.6,215.4 L482.7,216.4 L481.8,217.3 L480.9,218.3 L480.0,219.2 L479.1,220.2 L478.2,221.1 L477.3,222.1 L476.4,223.0 L475.5,224.0 L474.6,225.0 L473.8,225.9 L472.9,226.9 L472.0,227.8 L471.1,228.8 L470.2,229.8 L469.3,230.7 L468.5,231.7 L467.6,232.7 L466.7,233.6 L465.8,234.6 L465.0,235.6 L464.1,236.6 L463.2,237.5 L462.3,238.5 L461.5,239.5 L460.6,240.5 L459.7,241.4 L458.9,242.4 L458.0,243.4 L457.2,244.4 L456.3,245.4 L455.4,246.4 L454.6,247.3 L453.7,248.3 L452.9,249.3 L452.0,250.3 L451.2,251.3 L450.3,252.3 L449.5,253.3 L448.6,254.3 L447.8,255.3 L446.9,256.3 L446.1,257.2 L445.2,258.2 L444.4,259.2 L443.6,260.2 L442.7,261.2 L441.9,262.2 L441.0,263.2 L440.2,264.3 L439.4,265.3 L438.5,266.3 L437.7,267.3 L436.9,268.3 L436.1,269.3 L435.2,270.3 L434.4,271.3 L433.6,272.3 L432.8,273.3 L431.9,274.4 L431.1,275.4 L430.3,276.4 L429.5,277.4 L428.7,278.4 L427.8,279.4 L427.0,280.5 L426.2,281.5 L425.4,282.5 L424.6,283.5 L423.8,284.6 L423.0,285.6 L422.2,286.6 L421.4,287.7 L420.6,288.7 L419.8,289.7 L419.0,290.8 L418.2,291.8 L417.4,292.8 L416.6,293.9 L415.8,294.9 L415.0,295.9 L414.2,297.0 L413.4,298.0 L412.6,299.1 L411.8,300.1 L411.0,301.2 L410.3,302.2 L409.5,303.3 L408.7,304.3 L407.9,305.4 L407.1,306.4 L406.3,307.5 L405.6,308.5 L404.8,309.6 L404.0,310.6 L403.2,311.7" fill="none" stroke="#1a1a1a" stroke-width="1.25"/>
<path d="M402.5,311.0 L401.1,312.6 L399.8,314.3 L398.5,316.0 L397.3,317.7 L396.2,319.4 L395.1,321.2 L394.0,323.0 L393.0,324.8 L392.1,326.7 L391.2,328.5 L390.4,330.5 L389.6,332.4 L388.8,334.3 L388.1,336.3 L387.4,338.3 L386.7,340.3 L386.0,342.3 L385.4,344.4 L384.8,346.4 L384.3,348.5 L383.7,350.5 L383.2,352.6 L382.7,354.7 L382.2,356.7 L381.7,358.8 L381.2,360.9 L380.7,363.0 L380.2,365.1 L379.7,367.2 L379.3,369.2 L378.8,371.3 L378.3,373.3 L377.8,375.4 L377.2,377.4 L376.7,379.5 L376.2,381.5 L375.6,383.4 L375.0,385.4 L374.4,387.4" fill="none" stroke="#1a1a1a" stroke-width="1.25"/>
<path d="M397.9,285.7 L396.9,287.7 L395.9,289.8 L395.0,291.9 L394.1,294.0 L393.1,296.2 L392.3,298.3 L391.4,300.4 L390.6,302.6 L389.7,304.7 L389.0,306.9 L388.2,309.1 L387.4,311.3 L386.7,313.4 L386.0,315.6 L385.3,317.8 L384.7,320.0 L384.0,322.3 L383.4,324.5 L382.8,326.7 L382.2,328.9 L381.6,331.2 L381.1,333.4 L380.6,335.6 L380.1,337.9 L379.6,340.2 L379.1,342.4 L378.6,344.7 L378.2,346.9 L377.8,349.2 L377.4,351.5 L377.0,353.7 L376.6,356.0 L376.2,358.3 L375.9,360.6 L375.5,362.9 L375.2,365.1 L374.9,367.4 L374.6,369.7 L374.4,372.0" fill="none" stroke="#1a1a1a" stroke-width="1.25"/>
<text transform="translate(641.0,65.1) scale(0.85,1)" font-size="8.5" font-weight="bold" text-anchor="end" stroke="#000" stroke-width="0.4" >97</text>
<text transform="translate(639.6,75.8) scale(0.85,1)" font-size="8.5" font-weight="bold" text-anchor="end" stroke="#000" stroke-width="0.4" >90</text>
<text transform="translate(639.6,86.6) scale(0.85,1)" font-size="8.5" font-weight="bold" text-anchor="end" stroke="#000" stroke-width="0.4" >75</text>
<text transform="translate(639.6,96.4) scale(0.85,1)" font-size="8.5" font-weight="bold" text-anchor="end" stroke="#000" stroke-width="0.4" >50</text>
<text transform="translate(639.6,107.6) scale(0.85,1)" font-size="8.5" font-weight="bold" text-anchor="end" stroke="#000" stroke-width="0.4" >25</text>
<text transform="translate(639.6,117.4) scale(0.85,1)" font-size="8.5" font-weight="bold" text-anchor="end" stroke="#000" stroke-width="0.4" >10</text>
<text transform="translate(639.6,125.8) scale(0.85,1)" font-size="8.5" font-weight="bold" text-anchor="end" stroke="#000" stroke-width="0.4" >3</text>
<rect x="442.3" y="220.4" width="64" height="26.1" fill="#fff"/>
<rect x="500.5" y="181.6" width="60" height="25.5" fill="#fff"/>
<path d="M626.5,115.4 L609.4,115.4 L590.0,115.4 L582.0,115.5 L574.7,116.0 L570.5,117.2 L566.5,118.9 L561.8,121.6 L557.5,124.7 L552.9,128.2 L548.7,132.2 L541.4,148.5 L533.7,162.6 L521.9,167.2 L507.7,171.6 L495.0,176.8 L480.4,183.2 L469.0,187.2 L465.4,194.4 L456.0,205.5 L438.1,229.7" fill="none" stroke="#111" stroke-width="1.5" stroke-linejoin="round"/>
<path d="M438.1,229.7 L422.5,253.5" fill="none" stroke="#111" stroke-width="1.0"/>
<circle cx="626.5" cy="115.4" r="2" fill="#000"/>
<circle cx="609.4" cy="115.4" r="2" fill="#000"/>
<circle cx="574.7" cy="116" r="2" fill="#000"/>
<circle cx="557.5" cy="124.7" r="2" fill="#000"/>
<circle cx="548.7" cy="132.2" r="2" fill="#000"/>
<circle cx="541.4" cy="148.5" r="2" fill="#000"/>
<circle cx="533.7" cy="162.6" r="2" fill="#000"/>
<circle cx="521.9" cy="167.2" r="2" fill="#000"/>
<circle cx="507.7" cy="171.6" r="2" fill="#000"/>
<circle cx="495" cy="176.8" r="2" fill="#000"/>
<circle cx="480.4" cy="183.2" r="2" fill="#000"/>
<circle cx="469" cy="187.2" r="2" fill="#000"/>
<circle cx="465.4" cy="194.4" r="2" fill="#000"/>
<circle cx="456" cy="205.5" r="2" fill="#000"/>
<rect x="436.2" y="227.8" width="3.8" height="3.8" fill="#000"/>
<rect x="420.6" y="251.6" width="3.8" height="3.8" fill="#000"/>
<path d="M533.7,181.6 V170.0" stroke="#000" stroke-width="1.8" fill="none"/>
<path d="M533.7,165.4 L530.8000000000001,171.0 L536.6,171.0 Z" fill="#000"/>
<path d="M470.9,220.4 V192.5" stroke="#000" stroke-width="1.8" fill="none"/>
<path d="M470.9,187.9 L468.0,193.5 L473.79999999999995,193.5 Z" fill="#000"/>
<text x="513.2" y="193.2" font-size="8.4" textLength="40.4" lengthAdjust="spacingAndGlyphs" fill="#000" stroke="#000" stroke-width="0.3">L-thyroxine</text>
<text x="517.9" y="202.8" font-size="8.4" textLength="31.2" lengthAdjust="spacingAndGlyphs" fill="#000" stroke="#000" stroke-width="0.3">treatment</text>
<text x="447.9" y="231.0" font-size="8.4" textLength="28.9" lengthAdjust="spacingAndGlyphs" fill="#000" stroke="#000" stroke-width="0.3">Onset of</text>
<text x="447.9" y="241.2" font-size="8.4" textLength="53.5" lengthAdjust="spacingAndGlyphs" fill="#000" stroke="#000" stroke-width="0.3">hypothyroidism</text>
<text transform="translate(332,12.4) scale(1.1,1)" font-size="15.5" font-weight="bold">b)</text>
<text transform="translate(386.5,409.9) scale(0.92,1)" font-size="9.5" font-weight="bold" text-anchor="start" stroke="#000" stroke-width="0.4" >b)</text>
<text transform="translate(483.3,443.3) scale(0.97,1)" font-size="11" font-weight="bold" text-anchor="start" stroke="#000" stroke-width="0.25" >Age</text>
<text transform="translate(505.6,443.2) scale(1.0,1)" font-size="9.3" font-weight="normal" text-anchor="start" stroke="#000" stroke-width="0.3" >(yrs)</text>
<text transform="translate(13.4,250.4) rotate(-90)" font-size="11.5" font-weight="bold" stroke="#000" stroke-width="0.25" textLength="36.2" lengthAdjust="spacingAndGlyphs">Height</text>
<text transform="translate(13.4,211.9) rotate(-90)" font-size="9.2" stroke="#000" stroke-width="0.35" textLength="23.2" lengthAdjust="spacing">(cm)</text>
<text transform="translate(341.7,250.0) rotate(-90)" font-size="11.5" font-weight="bold" stroke="#000" stroke-width="0.25" textLength="39.1" lengthAdjust="spacingAndGlyphs">Height</text>
<text transform="translate(341.7,207.6) rotate(-90)" font-size="9.2" stroke="#000" stroke-width="0.35" textLength="22.9" lengthAdjust="spacing">(cm)</text>
</svg>
</body></html>
